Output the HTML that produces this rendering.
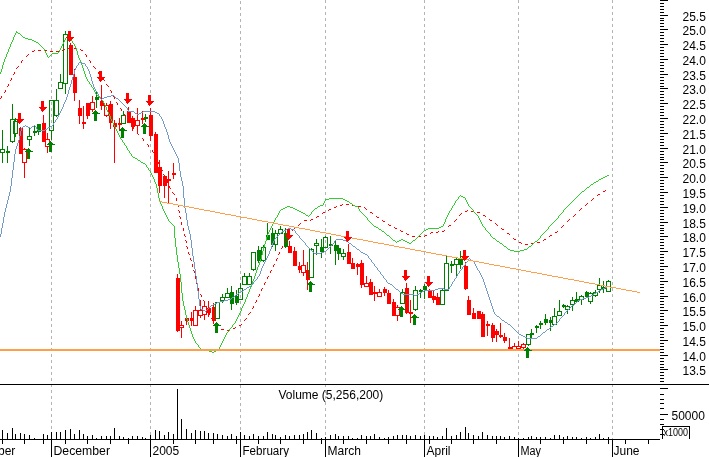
<!DOCTYPE html>
<html><head><meta charset="utf-8"><style>
html,body{margin:0;padding:0;background:#fff;}
body{width:709px;height:457px;overflow:hidden;}
svg{display:block;will-change:transform;}
.t{font-family:"Liberation Sans", sans-serif;font-size:12px;fill:#000;}
.s{font-family:"Liberation Sans", sans-serif;font-size:10px;fill:#000;}
</style></head><body>
<svg width="709" height="457" viewBox="0 0 709 457">
<rect width="709" height="457" fill="#fff"/>
<g shape-rendering="crispEdges"><line x1="51.5" y1="0" x2="51.5" y2="439" stroke="#b4b4b4" stroke-width="1" stroke-dasharray="3,3"/><line x1="150.5" y1="0" x2="150.5" y2="439" stroke="#b4b4b4" stroke-width="1" stroke-dasharray="3,3"/><line x1="240.5" y1="0" x2="240.5" y2="439" stroke="#b4b4b4" stroke-width="1" stroke-dasharray="3,3" stroke-dashoffset="5"/><line x1="325.5" y1="0" x2="325.5" y2="439" stroke="#b4b4b4" stroke-width="1" stroke-dasharray="3,3"/><line x1="424.5" y1="0" x2="424.5" y2="439" stroke="#b4b4b4" stroke-width="1" stroke-dasharray="3,3"/><line x1="518.5" y1="0" x2="518.5" y2="439" stroke="#b4b4b4" stroke-width="1" stroke-dasharray="3,3"/><line x1="612.5" y1="0" x2="612.5" y2="439" stroke="#b4b4b4" stroke-width="1" stroke-dasharray="3,3"/></g>
<text x="-40" y="455" class="t">November</text>
<g shape-rendering="crispEdges"><rect x="2" y="130" width="1" height="19" fill="#008000"/><rect x="2" y="153" width="1" height="10" fill="#008000"/><rect x="0" y="149" width="5" height="1" fill="#008000"/><rect x="0" y="152" width="5" height="1" fill="#008000"/><rect x="0" y="149" width="1" height="4" fill="#008000"/><rect x="4" y="149" width="1" height="4" fill="#008000"/><rect x="7" y="146" width="1" height="5" fill="#008000"/><rect x="7" y="153" width="1" height="10" fill="#008000"/><rect x="6" y="151" width="4" height="2" fill="#008000"/><rect x="12" y="104" width="1" height="15" fill="#008000"/><rect x="12" y="142" width="1" height="1" fill="#008000"/><rect x="10" y="119" width="5" height="1" fill="#008000"/><rect x="10" y="141" width="5" height="1" fill="#008000"/><rect x="10" y="119" width="1" height="23" fill="#008000"/><rect x="14" y="119" width="1" height="23" fill="#008000"/><rect x="15" y="118" width="1" height="3" fill="#008000"/><rect x="15" y="134" width="1" height="3" fill="#008000"/><rect x="13" y="121" width="5" height="1" fill="#008000"/><rect x="13" y="133" width="5" height="1" fill="#008000"/><rect x="13" y="121" width="1" height="13" fill="#008000"/><rect x="17" y="121" width="1" height="13" fill="#008000"/><rect x="20" y="127" width="1" height="1" fill="#ff0000"/><rect x="19" y="128" width="4" height="26" fill="#ff0000"/><rect x="24" y="148" width="1" height="1" fill="#ff0000"/><rect x="24" y="163" width="1" height="15" fill="#ff0000"/><rect x="22" y="149" width="5" height="1" fill="#ff0000"/><rect x="22" y="162" width="5" height="1" fill="#ff0000"/><rect x="22" y="149" width="1" height="14" fill="#ff0000"/><rect x="26" y="149" width="1" height="14" fill="#ff0000"/><rect x="29" y="128" width="1" height="8" fill="#008000"/><rect x="29" y="140" width="1" height="6" fill="#008000"/><rect x="27" y="136" width="5" height="1" fill="#008000"/><rect x="27" y="139" width="5" height="1" fill="#008000"/><rect x="27" y="136" width="1" height="4" fill="#008000"/><rect x="31" y="136" width="1" height="4" fill="#008000"/><rect x="34" y="125" width="1" height="6" fill="#008000"/><rect x="34" y="133" width="1" height="3" fill="#008000"/><rect x="33" y="131" width="4" height="2" fill="#008000"/><rect x="38" y="132" width="1" height="3" fill="#008000"/><rect x="37" y="124" width="4" height="8" fill="#008000"/><rect x="43" y="115" width="1" height="8" fill="#ff0000"/><rect x="42" y="123" width="4" height="19" fill="#ff0000"/><rect x="47" y="133" width="1" height="6" fill="#ff0000"/><rect x="47" y="147" width="1" height="6" fill="#ff0000"/><rect x="45" y="139" width="5" height="1" fill="#ff0000"/><rect x="45" y="146" width="5" height="1" fill="#ff0000"/><rect x="45" y="139" width="1" height="8" fill="#ff0000"/><rect x="49" y="139" width="1" height="8" fill="#ff0000"/><rect x="51" y="131" width="1" height="9" fill="#008000"/><rect x="49" y="100" width="5" height="1" fill="#008000"/><rect x="49" y="130" width="5" height="1" fill="#008000"/><rect x="49" y="100" width="1" height="31" fill="#008000"/><rect x="53" y="100" width="1" height="31" fill="#008000"/><rect x="56" y="89" width="1" height="11" fill="#008000"/><rect x="56" y="116" width="1" height="1" fill="#008000"/><rect x="54" y="100" width="5" height="1" fill="#008000"/><rect x="54" y="115" width="5" height="1" fill="#008000"/><rect x="54" y="100" width="1" height="16" fill="#008000"/><rect x="58" y="100" width="1" height="16" fill="#008000"/><rect x="60" y="74" width="1" height="8" fill="#008000"/><rect x="58" y="82" width="5" height="1" fill="#008000"/><rect x="58" y="88" width="5" height="1" fill="#008000"/><rect x="58" y="82" width="1" height="7" fill="#008000"/><rect x="62" y="82" width="1" height="7" fill="#008000"/><rect x="65" y="31" width="1" height="3" fill="#008000"/><rect x="65" y="84" width="1" height="10" fill="#008000"/><rect x="63" y="34" width="5" height="1" fill="#008000"/><rect x="63" y="83" width="5" height="1" fill="#008000"/><rect x="63" y="34" width="1" height="50" fill="#008000"/><rect x="67" y="34" width="1" height="50" fill="#008000"/><rect x="70" y="43" width="1" height="2" fill="#ff0000"/><rect x="69" y="45" width="4" height="30" fill="#ff0000"/><rect x="74" y="69" width="1" height="8" fill="#ff0000"/><rect x="74" y="93" width="1" height="8" fill="#ff0000"/><rect x="73" y="77" width="4" height="16" fill="#ff0000"/><rect x="79" y="100" width="1" height="8" fill="#ff0000"/><rect x="79" y="116" width="1" height="8" fill="#ff0000"/><rect x="78" y="108" width="4" height="8" fill="#ff0000"/><rect x="83" y="106" width="1" height="16" fill="#ff0000"/><rect x="83" y="124" width="1" height="5" fill="#ff0000"/><rect x="82" y="122" width="4" height="2" fill="#ff0000"/><rect x="87" y="116" width="1" height="3" fill="#ff0000"/><rect x="86" y="103" width="4" height="13" fill="#ff0000"/><rect x="92" y="96" width="1" height="6" fill="#ff0000"/><rect x="92" y="110" width="1" height="2" fill="#ff0000"/><rect x="90" y="102" width="5" height="1" fill="#ff0000"/><rect x="90" y="109" width="5" height="1" fill="#ff0000"/><rect x="90" y="102" width="1" height="8" fill="#ff0000"/><rect x="94" y="102" width="1" height="8" fill="#ff0000"/><rect x="96" y="92" width="1" height="5" fill="#008000"/><rect x="96" y="100" width="1" height="8" fill="#008000"/><rect x="95" y="97" width="4" height="3" fill="#008000"/><rect x="101" y="85" width="1" height="16" fill="#ff0000"/><rect x="101" y="106" width="1" height="4" fill="#ff0000"/><rect x="100" y="101" width="4" height="5" fill="#ff0000"/><rect x="106" y="103" width="1" height="2" fill="#ff0000"/><rect x="106" y="116" width="1" height="1" fill="#ff0000"/><rect x="104" y="105" width="5" height="1" fill="#ff0000"/><rect x="104" y="115" width="5" height="1" fill="#ff0000"/><rect x="104" y="105" width="1" height="11" fill="#ff0000"/><rect x="108" y="105" width="1" height="11" fill="#ff0000"/><rect x="110" y="101" width="1" height="3" fill="#ff0000"/><rect x="110" y="123" width="1" height="6" fill="#ff0000"/><rect x="109" y="104" width="4" height="19" fill="#ff0000"/><rect x="114" y="120" width="1" height="3" fill="#ff0000"/><rect x="114" y="127" width="1" height="36" fill="#ff0000"/><rect x="113" y="123" width="4" height="4" fill="#ff0000"/><rect x="119" y="118" width="1" height="5" fill="#ff0000"/><rect x="119" y="125" width="1" height="6" fill="#ff0000"/><rect x="118" y="123" width="4" height="2" fill="#ff0000"/><rect x="123" y="111" width="1" height="4" fill="#008000"/><rect x="121" y="115" width="5" height="1" fill="#008000"/><rect x="121" y="123" width="5" height="1" fill="#008000"/><rect x="121" y="115" width="1" height="9" fill="#008000"/><rect x="125" y="115" width="1" height="9" fill="#008000"/><rect x="128" y="107" width="1" height="4" fill="#ff0000"/><rect x="127" y="111" width="4" height="12" fill="#ff0000"/><rect x="132" y="116" width="1" height="2" fill="#ff0000"/><rect x="132" y="127" width="1" height="4" fill="#ff0000"/><rect x="131" y="118" width="4" height="9" fill="#ff0000"/><rect x="137" y="108" width="1" height="12" fill="#ff0000"/><rect x="137" y="126" width="1" height="6" fill="#ff0000"/><rect x="135" y="120" width="5" height="1" fill="#ff0000"/><rect x="135" y="125" width="5" height="1" fill="#ff0000"/><rect x="135" y="120" width="1" height="6" fill="#ff0000"/><rect x="139" y="120" width="1" height="6" fill="#ff0000"/><rect x="142" y="111" width="1" height="7" fill="#ff0000"/><rect x="142" y="120" width="1" height="4" fill="#ff0000"/><rect x="141" y="118" width="4" height="2" fill="#ff0000"/><rect x="145" y="114" width="1" height="3" fill="#008000"/><rect x="145" y="119" width="1" height="3" fill="#008000"/><rect x="144" y="117" width="4" height="2" fill="#008000"/><rect x="150" y="108" width="1" height="7" fill="#ff0000"/><rect x="150" y="136" width="1" height="5" fill="#ff0000"/><rect x="149" y="115" width="4" height="21" fill="#ff0000"/><rect x="155" y="132" width="1" height="2" fill="#ff0000"/><rect x="154" y="134" width="4" height="39" fill="#ff0000"/><rect x="159" y="160" width="1" height="7" fill="#ff0000"/><rect x="159" y="186" width="1" height="7" fill="#ff0000"/><rect x="158" y="167" width="4" height="19" fill="#ff0000"/><rect x="164" y="186" width="1" height="12" fill="#ff0000"/><rect x="163" y="176" width="4" height="10" fill="#ff0000"/><rect x="168" y="171" width="1" height="8" fill="#ff0000"/><rect x="168" y="181" width="1" height="22" fill="#ff0000"/><rect x="167" y="179" width="4" height="2" fill="#ff0000"/><rect x="173" y="163" width="1" height="10" fill="#ff0000"/><rect x="173" y="175" width="1" height="4" fill="#ff0000"/><rect x="172" y="173" width="4" height="2" fill="#ff0000"/><rect x="177" y="274" width="1" height="4" fill="#ff0000"/><rect x="177" y="331" width="1" height="1" fill="#ff0000"/><rect x="176" y="278" width="4" height="53" fill="#ff0000"/><rect x="181" y="321" width="1" height="4" fill="#ff0000"/><rect x="181" y="328" width="1" height="10" fill="#ff0000"/><rect x="179" y="325" width="5" height="1" fill="#ff0000"/><rect x="179" y="327" width="5" height="1" fill="#ff0000"/><rect x="179" y="325" width="1" height="3" fill="#ff0000"/><rect x="183" y="325" width="1" height="3" fill="#ff0000"/><rect x="186" y="321" width="1" height="4" fill="#ff0000"/><rect x="185" y="318" width="4" height="3" fill="#ff0000"/><rect x="191" y="312" width="1" height="6" fill="#ff0000"/><rect x="191" y="321" width="1" height="5" fill="#ff0000"/><rect x="190" y="318" width="4" height="3" fill="#ff0000"/><rect x="195" y="306" width="1" height="4" fill="#ff0000"/><rect x="193" y="310" width="5" height="1" fill="#ff0000"/><rect x="193" y="325" width="5" height="1" fill="#ff0000"/><rect x="193" y="310" width="1" height="16" fill="#ff0000"/><rect x="197" y="310" width="1" height="16" fill="#ff0000"/><rect x="200" y="300" width="1" height="10" fill="#ff0000"/><rect x="200" y="316" width="1" height="2" fill="#ff0000"/><rect x="198" y="310" width="5" height="1" fill="#ff0000"/><rect x="198" y="315" width="5" height="1" fill="#ff0000"/><rect x="198" y="310" width="1" height="6" fill="#ff0000"/><rect x="202" y="310" width="1" height="6" fill="#ff0000"/><rect x="204" y="302" width="1" height="4" fill="#ff0000"/><rect x="204" y="315" width="1" height="5" fill="#ff0000"/><rect x="202" y="306" width="5" height="1" fill="#ff0000"/><rect x="202" y="314" width="5" height="1" fill="#ff0000"/><rect x="202" y="306" width="1" height="9" fill="#ff0000"/><rect x="206" y="306" width="1" height="9" fill="#ff0000"/><rect x="208" y="301" width="1" height="7" fill="#ff0000"/><rect x="208" y="313" width="1" height="4" fill="#ff0000"/><rect x="207" y="308" width="4" height="5" fill="#ff0000"/><rect x="213" y="303" width="1" height="4" fill="#ff0000"/><rect x="213" y="321" width="1" height="3" fill="#ff0000"/><rect x="212" y="307" width="4" height="14" fill="#ff0000"/><rect x="215" y="302" width="5" height="1" fill="#008000"/><rect x="215" y="318" width="5" height="1" fill="#008000"/><rect x="215" y="302" width="1" height="17" fill="#008000"/><rect x="219" y="302" width="1" height="17" fill="#008000"/><rect x="222" y="294" width="1" height="3" fill="#008000"/><rect x="222" y="301" width="1" height="2" fill="#008000"/><rect x="220" y="297" width="5" height="1" fill="#008000"/><rect x="220" y="300" width="5" height="1" fill="#008000"/><rect x="220" y="297" width="1" height="4" fill="#008000"/><rect x="224" y="297" width="1" height="4" fill="#008000"/><rect x="227" y="288" width="1" height="5" fill="#008000"/><rect x="225" y="293" width="5" height="1" fill="#008000"/><rect x="225" y="297" width="5" height="1" fill="#008000"/><rect x="225" y="293" width="1" height="5" fill="#008000"/><rect x="229" y="293" width="1" height="5" fill="#008000"/><rect x="231" y="286" width="1" height="6" fill="#008000"/><rect x="231" y="304" width="1" height="6" fill="#008000"/><rect x="230" y="292" width="4" height="12" fill="#008000"/><rect x="236" y="290" width="1" height="6" fill="#008000"/><rect x="236" y="303" width="1" height="2" fill="#008000"/><rect x="235" y="296" width="4" height="7" fill="#008000"/><rect x="240" y="283" width="1" height="5" fill="#008000"/><rect x="238" y="288" width="5" height="1" fill="#008000"/><rect x="238" y="299" width="5" height="1" fill="#008000"/><rect x="238" y="288" width="1" height="12" fill="#008000"/><rect x="242" y="288" width="1" height="12" fill="#008000"/><rect x="244" y="273" width="1" height="3" fill="#008000"/><rect x="242" y="276" width="5" height="1" fill="#008000"/><rect x="242" y="284" width="5" height="1" fill="#008000"/><rect x="242" y="276" width="1" height="9" fill="#008000"/><rect x="246" y="276" width="1" height="9" fill="#008000"/><rect x="249" y="273" width="1" height="3" fill="#008000"/><rect x="247" y="276" width="5" height="1" fill="#008000"/><rect x="247" y="284" width="5" height="1" fill="#008000"/><rect x="247" y="276" width="1" height="9" fill="#008000"/><rect x="251" y="276" width="1" height="9" fill="#008000"/><rect x="253" y="270" width="1" height="1" fill="#008000"/><rect x="251" y="252" width="5" height="1" fill="#008000"/><rect x="251" y="269" width="5" height="1" fill="#008000"/><rect x="251" y="252" width="1" height="18" fill="#008000"/><rect x="255" y="252" width="1" height="18" fill="#008000"/><rect x="258" y="246" width="1" height="4" fill="#008000"/><rect x="258" y="261" width="1" height="2" fill="#008000"/><rect x="257" y="250" width="4" height="11" fill="#008000"/><rect x="263" y="245" width="1" height="2" fill="#008000"/><rect x="263" y="261" width="1" height="1" fill="#008000"/><rect x="261" y="247" width="5" height="1" fill="#008000"/><rect x="261" y="260" width="5" height="1" fill="#008000"/><rect x="261" y="247" width="1" height="14" fill="#008000"/><rect x="265" y="247" width="1" height="14" fill="#008000"/><rect x="267" y="223" width="1" height="12" fill="#008000"/><rect x="266" y="235" width="4" height="5" fill="#008000"/><rect x="272" y="228" width="1" height="5" fill="#008000"/><rect x="272" y="245" width="1" height="2" fill="#008000"/><rect x="271" y="233" width="4" height="12" fill="#008000"/><rect x="275" y="230" width="1" height="3" fill="#008000"/><rect x="275" y="245" width="1" height="6" fill="#008000"/><rect x="273" y="233" width="5" height="1" fill="#008000"/><rect x="273" y="244" width="5" height="1" fill="#008000"/><rect x="273" y="233" width="1" height="12" fill="#008000"/><rect x="277" y="233" width="1" height="12" fill="#008000"/><rect x="280" y="226" width="1" height="3" fill="#008000"/><rect x="278" y="229" width="5" height="1" fill="#008000"/><rect x="278" y="233" width="5" height="1" fill="#008000"/><rect x="278" y="229" width="1" height="5" fill="#008000"/><rect x="282" y="229" width="1" height="5" fill="#008000"/><rect x="285" y="228" width="1" height="5" fill="#008000"/><rect x="285" y="247" width="1" height="1" fill="#008000"/><rect x="284" y="233" width="4" height="14" fill="#008000"/><rect x="289" y="241" width="1" height="5" fill="#ff0000"/><rect x="288" y="246" width="4" height="7" fill="#ff0000"/><rect x="294" y="247" width="1" height="4" fill="#ff0000"/><rect x="293" y="251" width="4" height="15" fill="#ff0000"/><rect x="299" y="262" width="1" height="4" fill="#ff0000"/><rect x="299" y="270" width="1" height="3" fill="#ff0000"/><rect x="298" y="266" width="4" height="4" fill="#ff0000"/><rect x="303" y="250" width="1" height="15" fill="#ff0000"/><rect x="303" y="273" width="1" height="3" fill="#ff0000"/><rect x="301" y="265" width="5" height="1" fill="#ff0000"/><rect x="301" y="272" width="5" height="1" fill="#ff0000"/><rect x="301" y="265" width="1" height="8" fill="#ff0000"/><rect x="305" y="265" width="1" height="8" fill="#ff0000"/><rect x="307" y="262" width="1" height="8" fill="#ff0000"/><rect x="307" y="280" width="1" height="10" fill="#ff0000"/><rect x="306" y="270" width="4" height="10" fill="#ff0000"/><rect x="311" y="248" width="1" height="1" fill="#008000"/><rect x="309" y="249" width="5" height="1" fill="#008000"/><rect x="309" y="277" width="5" height="1" fill="#008000"/><rect x="309" y="249" width="1" height="29" fill="#008000"/><rect x="313" y="249" width="1" height="29" fill="#008000"/><rect x="316" y="239" width="1" height="4" fill="#008000"/><rect x="316" y="246" width="1" height="9" fill="#008000"/><rect x="314" y="243" width="5" height="1" fill="#008000"/><rect x="314" y="245" width="5" height="1" fill="#008000"/><rect x="314" y="243" width="1" height="3" fill="#008000"/><rect x="318" y="243" width="1" height="3" fill="#008000"/><rect x="321" y="239" width="1" height="8" fill="#008000"/><rect x="321" y="252" width="1" height="6" fill="#008000"/><rect x="320" y="247" width="4" height="5" fill="#008000"/><rect x="325" y="236" width="1" height="1" fill="#008000"/><rect x="323" y="237" width="5" height="1" fill="#008000"/><rect x="323" y="247" width="5" height="1" fill="#008000"/><rect x="323" y="237" width="1" height="11" fill="#008000"/><rect x="327" y="237" width="1" height="11" fill="#008000"/><rect x="330" y="236" width="1" height="8" fill="#008000"/><rect x="330" y="246" width="1" height="8" fill="#008000"/><rect x="329" y="244" width="4" height="2" fill="#008000"/><rect x="335" y="240" width="1" height="5" fill="#008000"/><rect x="335" y="251" width="1" height="14" fill="#008000"/><rect x="334" y="245" width="4" height="6" fill="#008000"/><rect x="338" y="245" width="1" height="3" fill="#008000"/><rect x="338" y="254" width="1" height="6" fill="#008000"/><rect x="337" y="248" width="4" height="6" fill="#008000"/><rect x="343" y="249" width="1" height="4" fill="#008000"/><rect x="343" y="257" width="1" height="3" fill="#008000"/><rect x="341" y="253" width="5" height="1" fill="#008000"/><rect x="341" y="256" width="5" height="1" fill="#008000"/><rect x="341" y="253" width="1" height="4" fill="#008000"/><rect x="345" y="253" width="1" height="4" fill="#008000"/><rect x="348" y="244" width="1" height="8" fill="#ff0000"/><rect x="347" y="252" width="4" height="12" fill="#ff0000"/><rect x="352" y="258" width="1" height="5" fill="#ff0000"/><rect x="351" y="263" width="4" height="6" fill="#ff0000"/><rect x="357" y="263" width="1" height="1" fill="#ff0000"/><rect x="357" y="267" width="1" height="8" fill="#ff0000"/><rect x="356" y="264" width="4" height="3" fill="#ff0000"/><rect x="361" y="260" width="1" height="3" fill="#ff0000"/><rect x="361" y="285" width="1" height="3" fill="#ff0000"/><rect x="360" y="263" width="4" height="22" fill="#ff0000"/><rect x="366" y="276" width="1" height="7" fill="#ff0000"/><rect x="364" y="283" width="5" height="1" fill="#ff0000"/><rect x="364" y="286" width="5" height="1" fill="#ff0000"/><rect x="364" y="283" width="1" height="4" fill="#ff0000"/><rect x="368" y="283" width="1" height="4" fill="#ff0000"/><rect x="370" y="279" width="1" height="3" fill="#ff0000"/><rect x="369" y="282" width="4" height="13" fill="#ff0000"/><rect x="374" y="286" width="1" height="6" fill="#ff0000"/><rect x="374" y="294" width="1" height="7" fill="#ff0000"/><rect x="373" y="292" width="4" height="2" fill="#ff0000"/><rect x="379" y="289" width="1" height="3" fill="#ff0000"/><rect x="377" y="292" width="5" height="1" fill="#ff0000"/><rect x="377" y="296" width="5" height="1" fill="#ff0000"/><rect x="377" y="292" width="1" height="5" fill="#ff0000"/><rect x="381" y="292" width="1" height="5" fill="#ff0000"/><rect x="384" y="287" width="1" height="2" fill="#ff0000"/><rect x="384" y="293" width="1" height="3" fill="#ff0000"/><rect x="383" y="289" width="4" height="4" fill="#ff0000"/><rect x="388" y="290" width="1" height="3" fill="#ff0000"/><rect x="387" y="293" width="4" height="11" fill="#ff0000"/><rect x="393" y="299" width="1" height="3" fill="#ff0000"/><rect x="392" y="302" width="4" height="14" fill="#ff0000"/><rect x="397" y="305" width="1" height="2" fill="#ff0000"/><rect x="397" y="316" width="1" height="5" fill="#ff0000"/><rect x="395" y="307" width="5" height="1" fill="#ff0000"/><rect x="395" y="315" width="5" height="1" fill="#ff0000"/><rect x="395" y="307" width="1" height="9" fill="#ff0000"/><rect x="399" y="307" width="1" height="9" fill="#ff0000"/><rect x="402" y="289" width="1" height="3" fill="#008000"/><rect x="400" y="292" width="5" height="1" fill="#008000"/><rect x="400" y="303" width="5" height="1" fill="#008000"/><rect x="400" y="292" width="1" height="12" fill="#008000"/><rect x="404" y="292" width="1" height="12" fill="#008000"/><rect x="406" y="283" width="1" height="5" fill="#ff0000"/><rect x="406" y="313" width="1" height="1" fill="#ff0000"/><rect x="405" y="288" width="4" height="25" fill="#ff0000"/><rect x="410" y="300" width="1" height="12" fill="#ff0000"/><rect x="410" y="314" width="1" height="9" fill="#ff0000"/><rect x="409" y="312" width="4" height="2" fill="#ff0000"/><rect x="415" y="286" width="1" height="4" fill="#008000"/><rect x="415" y="310" width="1" height="1" fill="#008000"/><rect x="413" y="290" width="5" height="1" fill="#008000"/><rect x="413" y="309" width="5" height="1" fill="#008000"/><rect x="413" y="290" width="1" height="20" fill="#008000"/><rect x="417" y="290" width="1" height="20" fill="#008000"/><rect x="420" y="289" width="1" height="1" fill="#008000"/><rect x="420" y="292" width="1" height="6" fill="#008000"/><rect x="419" y="290" width="4" height="2" fill="#008000"/><rect x="424" y="284" width="1" height="2" fill="#008000"/><rect x="424" y="290" width="1" height="9" fill="#008000"/><rect x="423" y="286" width="4" height="4" fill="#008000"/><rect x="429" y="289" width="1" height="1" fill="#ff0000"/><rect x="428" y="290" width="4" height="8" fill="#ff0000"/><rect x="433" y="291" width="1" height="5" fill="#ff0000"/><rect x="433" y="300" width="1" height="3" fill="#ff0000"/><rect x="432" y="296" width="4" height="4" fill="#ff0000"/><rect x="437" y="293" width="1" height="4" fill="#ff0000"/><rect x="436" y="297" width="4" height="8" fill="#ff0000"/><rect x="442" y="288" width="1" height="2" fill="#008000"/><rect x="440" y="290" width="5" height="1" fill="#008000"/><rect x="440" y="304" width="5" height="1" fill="#008000"/><rect x="440" y="290" width="1" height="15" fill="#008000"/><rect x="444" y="290" width="1" height="15" fill="#008000"/><rect x="446" y="256" width="1" height="7" fill="#008000"/><rect x="444" y="263" width="5" height="1" fill="#008000"/><rect x="444" y="290" width="5" height="1" fill="#008000"/><rect x="444" y="263" width="1" height="28" fill="#008000"/><rect x="448" y="263" width="1" height="28" fill="#008000"/><rect x="451" y="261" width="1" height="3" fill="#008000"/><rect x="451" y="266" width="1" height="7" fill="#008000"/><rect x="450" y="264" width="4" height="2" fill="#008000"/><rect x="456" y="258" width="1" height="1" fill="#008000"/><rect x="456" y="265" width="1" height="11" fill="#008000"/><rect x="454" y="259" width="5" height="1" fill="#008000"/><rect x="454" y="264" width="5" height="1" fill="#008000"/><rect x="454" y="259" width="1" height="6" fill="#008000"/><rect x="458" y="259" width="1" height="6" fill="#008000"/><rect x="460" y="251" width="1" height="8" fill="#008000"/><rect x="460" y="265" width="1" height="4" fill="#008000"/><rect x="459" y="259" width="4" height="6" fill="#008000"/><rect x="465" y="262" width="1" height="4" fill="#ff0000"/><rect x="465" y="289" width="1" height="1" fill="#ff0000"/><rect x="464" y="266" width="4" height="23" fill="#ff0000"/><rect x="468" y="296" width="1" height="4" fill="#ff0000"/><rect x="467" y="300" width="4" height="15" fill="#ff0000"/><rect x="473" y="308" width="1" height="5" fill="#ff0000"/><rect x="472" y="313" width="4" height="6" fill="#ff0000"/><rect x="477" y="311" width="4" height="8" fill="#ff0000"/><rect x="482" y="312" width="1" height="2" fill="#ff0000"/><rect x="481" y="314" width="4" height="23" fill="#ff0000"/><rect x="487" y="321" width="1" height="3" fill="#ff0000"/><rect x="487" y="326" width="1" height="10" fill="#ff0000"/><rect x="486" y="324" width="4" height="2" fill="#ff0000"/><rect x="492" y="323" width="1" height="2" fill="#ff0000"/><rect x="492" y="338" width="1" height="4" fill="#ff0000"/><rect x="491" y="325" width="4" height="13" fill="#ff0000"/><rect x="496" y="329" width="1" height="2" fill="#ff0000"/><rect x="496" y="335" width="1" height="7" fill="#ff0000"/><rect x="495" y="331" width="4" height="4" fill="#ff0000"/><rect x="500" y="323" width="1" height="12" fill="#ff0000"/><rect x="500" y="337" width="1" height="1" fill="#ff0000"/><rect x="499" y="335" width="4" height="2" fill="#ff0000"/><rect x="504" y="333" width="1" height="4" fill="#ff0000"/><rect x="504" y="341" width="1" height="2" fill="#ff0000"/><rect x="503" y="337" width="4" height="4" fill="#ff0000"/><rect x="509" y="338" width="1" height="9" fill="#ff0000"/><rect x="509" y="350" width="1" height="1" fill="#ff0000"/><rect x="508" y="347" width="4" height="3" fill="#ff0000"/><rect x="514" y="343" width="1" height="3" fill="#ff0000"/><rect x="514" y="350" width="1" height="1" fill="#ff0000"/><rect x="512" y="346" width="5" height="1" fill="#ff0000"/><rect x="512" y="349" width="5" height="1" fill="#ff0000"/><rect x="512" y="346" width="1" height="4" fill="#ff0000"/><rect x="516" y="346" width="1" height="4" fill="#ff0000"/><rect x="518" y="341" width="1" height="5" fill="#ff0000"/><rect x="518" y="349" width="1" height="1" fill="#ff0000"/><rect x="516" y="346" width="5" height="1" fill="#ff0000"/><rect x="516" y="348" width="5" height="1" fill="#ff0000"/><rect x="516" y="346" width="1" height="3" fill="#ff0000"/><rect x="520" y="346" width="1" height="3" fill="#ff0000"/><rect x="523" y="343" width="1" height="1" fill="#ff0000"/><rect x="523" y="348" width="1" height="1" fill="#ff0000"/><rect x="521" y="344" width="5" height="1" fill="#ff0000"/><rect x="521" y="347" width="5" height="1" fill="#ff0000"/><rect x="521" y="344" width="1" height="4" fill="#ff0000"/><rect x="525" y="344" width="1" height="4" fill="#ff0000"/><rect x="528" y="345" width="1" height="1" fill="#008000"/><rect x="526" y="334" width="5" height="1" fill="#008000"/><rect x="526" y="344" width="5" height="1" fill="#008000"/><rect x="526" y="334" width="1" height="11" fill="#008000"/><rect x="530" y="334" width="1" height="11" fill="#008000"/><rect x="531" y="329" width="1" height="4" fill="#008000"/><rect x="531" y="335" width="1" height="3" fill="#008000"/><rect x="530" y="333" width="4" height="2" fill="#008000"/><rect x="536" y="325" width="1" height="1" fill="#008000"/><rect x="536" y="328" width="1" height="5" fill="#008000"/><rect x="535" y="326" width="4" height="2" fill="#008000"/><rect x="540" y="321" width="1" height="2" fill="#008000"/><rect x="540" y="325" width="1" height="4" fill="#008000"/><rect x="539" y="323" width="4" height="2" fill="#008000"/><rect x="545" y="314" width="1" height="5" fill="#008000"/><rect x="545" y="323" width="1" height="2" fill="#008000"/><rect x="544" y="319" width="4" height="4" fill="#008000"/><rect x="550" y="317" width="1" height="3" fill="#008000"/><rect x="550" y="323" width="1" height="8" fill="#008000"/><rect x="549" y="320" width="4" height="3" fill="#008000"/><rect x="554" y="308" width="1" height="8" fill="#008000"/><rect x="552" y="316" width="5" height="1" fill="#008000"/><rect x="552" y="324" width="5" height="1" fill="#008000"/><rect x="552" y="316" width="1" height="9" fill="#008000"/><rect x="556" y="316" width="1" height="9" fill="#008000"/><rect x="559" y="300" width="1" height="11" fill="#008000"/><rect x="557" y="311" width="5" height="1" fill="#008000"/><rect x="557" y="315" width="5" height="1" fill="#008000"/><rect x="557" y="311" width="1" height="5" fill="#008000"/><rect x="561" y="311" width="1" height="5" fill="#008000"/><rect x="563" y="304" width="1" height="1" fill="#008000"/><rect x="563" y="307" width="1" height="1" fill="#008000"/><rect x="562" y="305" width="4" height="2" fill="#008000"/><rect x="567" y="305" width="1" height="1" fill="#008000"/><rect x="567" y="310" width="1" height="4" fill="#008000"/><rect x="565" y="306" width="5" height="1" fill="#008000"/><rect x="565" y="309" width="5" height="1" fill="#008000"/><rect x="565" y="306" width="1" height="4" fill="#008000"/><rect x="569" y="306" width="1" height="4" fill="#008000"/><rect x="572" y="297" width="1" height="3" fill="#008000"/><rect x="572" y="305" width="1" height="6" fill="#008000"/><rect x="570" y="300" width="5" height="1" fill="#008000"/><rect x="570" y="304" width="5" height="1" fill="#008000"/><rect x="570" y="300" width="1" height="5" fill="#008000"/><rect x="574" y="300" width="1" height="5" fill="#008000"/><rect x="576" y="292" width="1" height="7" fill="#008000"/><rect x="576" y="302" width="1" height="1" fill="#008000"/><rect x="575" y="299" width="4" height="3" fill="#008000"/><rect x="581" y="295" width="1" height="1" fill="#008000"/><rect x="581" y="300" width="1" height="5" fill="#008000"/><rect x="579" y="296" width="5" height="1" fill="#008000"/><rect x="579" y="299" width="5" height="1" fill="#008000"/><rect x="579" y="296" width="1" height="4" fill="#008000"/><rect x="583" y="296" width="1" height="4" fill="#008000"/><rect x="586" y="291" width="1" height="1" fill="#008000"/><rect x="586" y="297" width="1" height="1" fill="#008000"/><rect x="585" y="292" width="4" height="5" fill="#008000"/><rect x="590" y="292" width="1" height="1" fill="#008000"/><rect x="590" y="302" width="1" height="2" fill="#008000"/><rect x="588" y="293" width="5" height="1" fill="#008000"/><rect x="588" y="301" width="5" height="1" fill="#008000"/><rect x="588" y="293" width="1" height="9" fill="#008000"/><rect x="592" y="293" width="1" height="9" fill="#008000"/><rect x="595" y="290" width="1" height="2" fill="#008000"/><rect x="595" y="296" width="1" height="1" fill="#008000"/><rect x="593" y="292" width="5" height="1" fill="#008000"/><rect x="593" y="295" width="5" height="1" fill="#008000"/><rect x="593" y="292" width="1" height="4" fill="#008000"/><rect x="597" y="292" width="1" height="4" fill="#008000"/><rect x="599" y="278" width="1" height="7" fill="#008000"/><rect x="599" y="290" width="1" height="3" fill="#008000"/><rect x="597" y="285" width="5" height="1" fill="#008000"/><rect x="597" y="289" width="5" height="1" fill="#008000"/><rect x="597" y="285" width="1" height="5" fill="#008000"/><rect x="601" y="285" width="1" height="5" fill="#008000"/><rect x="603" y="281" width="1" height="6" fill="#008000"/><rect x="603" y="289" width="1" height="4" fill="#008000"/><rect x="602" y="287" width="4" height="2" fill="#008000"/><rect x="608" y="280" width="1" height="1" fill="#008000"/><rect x="606" y="281" width="5" height="1" fill="#008000"/><rect x="606" y="291" width="5" height="1" fill="#008000"/><rect x="606" y="281" width="1" height="11" fill="#008000"/><rect x="610" y="281" width="1" height="11" fill="#008000"/></g>
<g shape-rendering="crispEdges">
<path d="M68 48h3v1h-3zM74 48h3v1h-3zM63 49h2v1h-2zM80 49h1v1h-1zM34 50h1v1h-1zM38 50h3v1h-3zM44 50h3v1h-3zM62 50h1v1h-1zM81 50h2v1h-2zM32 51h2v1h-2zM50 51h3v1h-3zM56 51h3v1h-3zM28 54h1v1h-1zM85 54h1v1h-1zM27 55h1v1h-1zM86 55h1v1h-1zM26 56h1v1h-1zM86 56h1v1h-1zM22 60h1v1h-1zM89 60h1v1h-1zM21 61h1v1h-1zM90 61h1v1h-1zM21 62h1v1h-1zM90 62h1v1h-1zM18 66h1v1h-1zM93 66h1v1h-1zM17 67h1v1h-1zM94 67h1v1h-1zM16 68h1v1h-1zM95 68h1v1h-1zM14 72h1v1h-1zM98 72h1v1h-1zM14 73h1v1h-1zM98 73h1v1h-1zM13 74h1v1h-1zM99 74h1v1h-1zM11 78h1v1h-1zM102 78h1v1h-1zM11 79h1v1h-1zM103 79h1v1h-1zM10 80h1v1h-1zM104 80h1v1h-1zM8 84h1v1h-1zM106 84h1v1h-1zM8 85h1v1h-1zM107 85h1v1h-1zM7 86h1v1h-1zM108 86h1v1h-1zM5 90h1v1h-1zM110 90h1v1h-1zM5 91h1v1h-1zM111 91h1v1h-1zM4 92h1v1h-1zM111 92h1v1h-1zM1 96h1v1h-1zM113 96h1v1h-1zM1 97h1v1h-1zM114 97h1v1h-1zM0 98h1v1h-1zM114 98h1v1h-1zM116 102h1v1h-1zM117 103h1v1h-1zM117 104h1v1h-1zM120 108h1v1h-1zM121 109h1v1h-1zM121 110h1v1h-1zM124 114h1v1h-1zM125 115h1v1h-1zM125 116h1v1h-1zM128 120h1v1h-1zM129 121h1v1h-1zM129 122h1v1h-1zM132 126h1v1h-1zM133 127h1v1h-1zM133 128h1v1h-1zM137 132h1v1h-1zM137 133h1v1h-1zM138 134h1v1h-1zM142 138h1v1h-1zM143 139h1v1h-1zM143 140h1v1h-1zM147 144h1v1h-1zM148 145h1v1h-1zM148 146h1v1h-1zM152 150h1v1h-1zM152 151h1v1h-1zM153 152h1v1h-1zM155 156h1v1h-1zM155 157h1v1h-1zM156 158h1v1h-1zM158 162h1v1h-1zM158 163h1v1h-1zM159 164h1v1h-1zM161 168h1v1h-1zM161 169h1v1h-1zM162 170h1v1h-1zM163 174h1v1h-1zM164 175h1v1h-1zM164 176h1v1h-1zM166 180h1v1h-1zM167 181h1v1h-1zM167 182h1v1h-1zM169 186h1v1h-1zM169 187h1v1h-1zM170 188h1v1h-1zM605 190h1v1h-1zM603 191h2v1h-2zM172 192h1v1h-1zM173 193h1v1h-1zM174 194h1v1h-1zM598 194h2v1h-2zM597 195h1v1h-1zM176 198h1v1h-1zM593 198h1v1h-1zM176 199h1v1h-1zM592 199h1v1h-1zM176 200h1v1h-1zM591 200h1v1h-1zM587 203h1v1h-1zM177 204h1v1h-1zM342 204h1v1h-1zM346 204h3v1h-3zM586 204h1v1h-1zM178 205h1v1h-1zM340 205h2v1h-2zM352 205h3v1h-3zM585 205h1v1h-1zM178 206h1v1h-1zM336 206h1v1h-1zM358 206h3v1h-3zM334 207h2v1h-2zM364 207h1v1h-1zM365 208h1v1h-1zM581 208h1v1h-1zM329 209h2v1h-2zM366 209h1v1h-1zM580 209h1v1h-1zM178 210h1v1h-1zM328 210h1v1h-1zM467 210h1v1h-1zM579 210h1v1h-1zM179 211h1v1h-1zM465 211h2v1h-2zM471 211h3v1h-3zM179 212h1v1h-1zM323 212h2v1h-2zM370 212h2v1h-2zM477 212h3v1h-3zM322 213h1v1h-1zM372 213h1v1h-1zM461 213h1v1h-1zM460 214h1v1h-1zM575 214h1v1h-1zM459 215h1v1h-1zM483 215h2v1h-2zM574 215h1v1h-1zM179 216h1v1h-1zM317 216h2v1h-2zM376 216h1v1h-1zM485 216h1v1h-1zM573 216h1v1h-1zM180 217h1v1h-1zM316 217h1v1h-1zM377 217h2v1h-2zM180 218h1v1h-1zM311 219h2v1h-2zM456 219h1v1h-1zM489 219h1v1h-1zM569 219h1v1h-1zM304 220h3v1h-3zM310 220h1v1h-1zM382 220h1v1h-1zM455 220h1v1h-1zM490 220h2v1h-2zM568 220h1v1h-1zM383 221h2v1h-2zM454 221h1v1h-1zM567 221h1v1h-1zM181 222h1v1h-1zM181 223h1v1h-1zM300 223h1v1h-1zM495 223h1v1h-1zM181 224h1v1h-1zM299 224h1v1h-1zM388 224h1v1h-1zM496 224h1v1h-1zM298 225h1v1h-1zM389 225h2v1h-2zM449 225h2v1h-2zM497 225h1v1h-1zM563 225h1v1h-1zM448 226h1v1h-1zM562 226h1v1h-1zM394 227h1v1h-1zM561 227h1v1h-1zM183 228h1v1h-1zM294 228h1v1h-1zM395 228h2v1h-2zM501 228h1v1h-1zM183 229h1v1h-1zM293 229h1v1h-1zM502 229h2v1h-2zM183 230h1v1h-1zM292 230h1v1h-1zM400 230h1v1h-1zM444 230h1v1h-1zM401 231h2v1h-2zM438 231h1v1h-1zM442 231h2v1h-2zM557 231h1v1h-1zM431 232h2v1h-2zM436 232h2v1h-2zM555 232h2v1h-2zM406 233h1v1h-1zM430 233h1v1h-1zM507 233h2v1h-2zM184 234h1v1h-1zM289 234h1v1h-1zM407 234h2v1h-2zM509 234h1v1h-1zM184 235h1v1h-1zM289 235h1v1h-1zM425 235h2v1h-2zM550 235h2v1h-2zM185 236h1v1h-1zM288 236h1v1h-1zM412 236h3v1h-3zM418 236h3v1h-3zM424 236h1v1h-1zM549 236h1v1h-1zM513 238h1v1h-1zM514 239h2v1h-2zM544 239h2v1h-2zM185 240h1v1h-1zM286 240h1v1h-1zM543 240h1v1h-1zM186 241h1v1h-1zM285 241h1v1h-1zM186 242h1v1h-1zM284 242h1v1h-1zM519 242h2v1h-2zM537 242h3v1h-3zM521 243h1v1h-1zM531 243h3v1h-3zM525 244h3v1h-3zM186 246h1v1h-1zM282 246h1v1h-1zM187 247h1v1h-1zM282 247h1v1h-1zM187 248h1v1h-1zM281 248h1v1h-1zM188 252h1v1h-1zM279 252h1v1h-1zM188 253h1v1h-1zM279 253h1v1h-1zM189 254h1v1h-1zM278 254h1v1h-1zM190 258h1v1h-1zM277 258h1v1h-1zM190 259h1v1h-1zM276 259h1v1h-1zM191 260h1v1h-1zM276 260h1v1h-1zM192 264h1v1h-1zM274 264h1v1h-1zM192 265h1v1h-1zM273 265h1v1h-1zM192 266h1v1h-1zM273 266h1v1h-1zM193 270h1v1h-1zM271 270h1v1h-1zM194 271h1v1h-1zM270 271h1v1h-1zM194 272h1v1h-1zM270 272h1v1h-1zM195 276h1v1h-1zM268 276h1v1h-1zM195 277h1v1h-1zM267 277h1v1h-1zM195 278h1v1h-1zM267 278h1v1h-1zM196 282h1v1h-1zM265 282h1v1h-1zM196 283h1v1h-1zM264 283h1v1h-1zM197 284h1v1h-1zM264 284h1v1h-1zM198 288h1v1h-1zM262 288h1v1h-1zM198 289h1v1h-1zM261 289h1v1h-1zM198 290h1v1h-1zM261 290h1v1h-1zM200 294h1v1h-1zM259 294h1v1h-1zM201 295h1v1h-1zM259 295h1v1h-1zM201 296h1v1h-1zM258 296h1v1h-1zM203 300h1v1h-1zM256 300h1v1h-1zM204 301h1v1h-1zM256 301h1v1h-1zM204 302h1v1h-1zM255 302h1v1h-1zM206 306h1v1h-1zM253 306h1v1h-1zM206 307h1v1h-1zM253 307h1v1h-1zM207 308h1v1h-1zM252 308h1v1h-1zM208 312h1v1h-1zM250 312h1v1h-1zM209 313h1v1h-1zM249 313h1v1h-1zM209 314h1v1h-1zM248 314h1v1h-1zM211 318h1v1h-1zM246 318h1v1h-1zM212 319h1v1h-1zM245 319h1v1h-1zM213 320h1v1h-1zM244 320h1v1h-1zM216 324h1v1h-1zM241 324h1v1h-1zM217 325h1v1h-1zM239 325h2v1h-2zM217 326h1v1h-1zM235 327h1v1h-1zM233 328h2v1h-2zM221 329h3v1h-3zM229 329h1v1h-1zM227 330h2v1h-2z" fill="#ff0000"/>
<path d="M16 31h1v1h-1zM16 32h2v1h-2zM15 33h1v1h-1zM18 33h2v1h-2zM15 34h1v1h-1zM20 34h1v1h-1zM14 35h1v1h-1zM21 35h1v1h-1zM14 36h1v1h-1zM22 36h1v1h-1zM13 37h1v1h-1zM23 37h2v1h-2zM66 37h4v1h-4zM13 38h1v1h-1zM25 38h3v1h-3zM65 38h1v1h-1zM70 38h1v1h-1zM13 39h1v1h-1zM28 39h4v1h-4zM65 39h1v1h-1zM70 39h1v1h-1zM12 40h1v1h-1zM32 40h2v1h-2zM64 40h1v1h-1zM71 40h1v1h-1zM12 41h1v1h-1zM34 41h2v1h-2zM64 41h1v1h-1zM72 41h1v1h-1zM11 42h1v1h-1zM36 42h2v1h-2zM63 42h1v1h-1zM72 42h1v1h-1zM11 43h1v1h-1zM38 43h1v1h-1zM63 43h1v1h-1zM73 43h1v1h-1zM10 44h1v1h-1zM39 44h1v1h-1zM62 44h1v1h-1zM74 44h1v1h-1zM10 45h1v1h-1zM40 45h1v1h-1zM62 45h1v1h-1zM74 45h1v1h-1zM10 46h1v1h-1zM41 46h1v1h-1zM61 46h1v1h-1zM75 46h1v1h-1zM9 47h1v1h-1zM42 47h1v1h-1zM61 47h1v1h-1zM75 47h1v1h-1zM9 48h1v1h-1zM43 48h1v1h-1zM60 48h1v1h-1zM76 48h1v1h-1zM8 49h1v1h-1zM44 49h1v1h-1zM60 49h1v1h-1zM76 49h1v1h-1zM8 50h1v1h-1zM44 50h1v1h-1zM59 50h1v1h-1zM76 50h1v1h-1zM8 51h1v1h-1zM45 51h1v1h-1zM59 51h1v1h-1zM77 51h1v1h-1zM7 52h1v1h-1zM45 52h1v1h-1zM58 52h1v1h-1zM77 52h1v1h-1zM7 53h1v1h-1zM46 53h1v1h-1zM52 53h6v1h-6zM77 53h1v1h-1zM6 54h1v1h-1zM46 54h1v1h-1zM51 54h1v1h-1zM77 54h1v1h-1zM6 55h1v1h-1zM47 55h1v1h-1zM50 55h1v1h-1zM78 55h1v1h-1zM6 56h1v1h-1zM47 56h1v1h-1zM49 56h1v1h-1zM78 56h1v1h-1zM5 57h1v1h-1zM48 57h1v1h-1zM78 57h1v1h-1zM5 58h1v1h-1zM79 58h1v1h-1zM4 59h1v1h-1zM79 59h1v1h-1zM4 60h1v1h-1zM80 60h1v1h-1zM4 61h1v1h-1zM80 61h1v1h-1zM3 62h1v1h-1zM80 62h1v1h-1zM3 63h1v1h-1zM81 63h1v1h-1zM3 64h1v1h-1zM81 64h1v1h-1zM2 65h1v1h-1zM82 65h1v1h-1zM2 66h1v1h-1zM82 66h1v1h-1zM2 67h1v1h-1zM82 67h1v1h-1zM2 68h1v1h-1zM83 68h1v1h-1zM1 69h1v1h-1zM83 69h1v1h-1zM1 70h1v1h-1zM83 70h1v1h-1zM1 71h1v1h-1zM84 71h1v1h-1zM0 72h1v1h-1zM84 72h1v1h-1zM0 73h1v1h-1zM84 73h1v1h-1zM85 74h1v1h-1zM85 75h1v1h-1zM85 76h1v1h-1zM86 77h1v1h-1zM86 78h1v1h-1zM87 79h1v1h-1zM87 80h1v1h-1zM88 81h1v1h-1zM89 82h1v1h-1zM89 83h1v1h-1zM90 84h1v1h-1zM91 85h1v1h-1zM91 86h1v1h-1zM92 87h1v1h-1zM93 88h1v1h-1zM93 89h1v1h-1zM94 90h1v1h-1zM94 91h1v1h-1zM95 92h1v1h-1zM95 93h1v1h-1zM96 94h1v1h-1zM97 95h1v1h-1zM98 96h1v1h-1zM99 97h1v1h-1zM100 98h1v1h-1zM101 99h1v1h-1zM102 100h1v1h-1zM103 101h1v1h-1zM103 102h1v1h-1zM104 103h1v1h-1zM104 104h1v1h-1zM105 105h1v1h-1zM105 106h1v1h-1zM106 107h1v1h-1zM106 108h1v1h-1zM106 109h1v1h-1zM107 110h1v1h-1zM107 111h1v1h-1zM108 112h1v1h-1zM108 113h1v1h-1zM109 114h1v1h-1zM109 115h1v1h-1zM110 116h1v1h-1zM110 117h1v1h-1zM110 118h1v1h-1zM111 119h1v1h-1zM111 120h1v1h-1zM112 121h1v1h-1zM112 122h1v1h-1zM113 123h1v1h-1zM113 124h1v1h-1zM114 125h1v1h-1zM114 126h1v1h-1zM115 127h1v1h-1zM115 128h1v1h-1zM116 129h1v1h-1zM116 130h1v1h-1zM117 131h1v1h-1zM117 132h1v1h-1zM118 133h1v1h-1zM118 134h1v1h-1zM119 135h1v1h-1zM119 136h1v1h-1zM120 137h1v1h-1zM120 138h1v1h-1zM121 139h1v1h-1zM122 140h1v1h-1zM122 141h1v1h-1zM123 142h1v1h-1zM124 143h1v1h-1zM124 144h1v1h-1zM125 145h1v1h-1zM126 146h1v1h-1zM126 147h1v1h-1zM127 148h1v1h-1zM127 149h1v1h-1zM128 150h1v1h-1zM129 151h1v1h-1zM129 152h1v1h-1zM130 153h1v1h-1zM131 154h1v1h-1zM131 155h1v1h-1zM132 156h1v1h-1zM133 157h2v1h-2zM135 158h2v1h-2zM137 159h1v1h-1zM138 160h2v1h-2zM140 161h1v1h-1zM141 162h2v1h-2zM143 163h2v1h-2zM145 164h1v1h-1zM146 165h1v1h-1zM146 166h1v1h-1zM147 167h1v1h-1zM148 168h1v1h-1zM148 169h1v1h-1zM149 170h1v1h-1zM150 171h1v1h-1zM150 172h1v1h-1zM151 173h1v1h-1zM151 174h1v1h-1zM152 175h1v1h-1zM607 175h2v1h-2zM152 176h1v1h-1zM605 176h2v1h-2zM153 177h1v1h-1zM603 177h2v1h-2zM153 178h1v1h-1zM601 178h2v1h-2zM154 179h1v1h-1zM599 179h2v1h-2zM154 180h1v1h-1zM598 180h1v1h-1zM154 181h1v1h-1zM596 181h2v1h-2zM155 182h1v1h-1zM594 182h2v1h-2zM155 183h1v1h-1zM593 183h1v1h-1zM156 184h1v1h-1zM591 184h2v1h-2zM156 185h1v1h-1zM590 185h1v1h-1zM156 186h1v1h-1zM589 186h1v1h-1zM156 187h1v1h-1zM587 187h2v1h-2zM157 188h1v1h-1zM586 188h1v1h-1zM157 189h1v1h-1zM585 189h1v1h-1zM157 190h1v1h-1zM584 190h1v1h-1zM157 191h1v1h-1zM582 191h2v1h-2zM157 192h1v1h-1zM581 192h1v1h-1zM158 193h1v1h-1zM580 193h1v1h-1zM158 194h1v1h-1zM579 194h1v1h-1zM158 195h1v1h-1zM460 195h1v1h-1zM578 195h1v1h-1zM158 196h1v1h-1zM459 196h1v1h-1zM461 196h2v1h-2zM577 196h1v1h-1zM158 197h1v1h-1zM458 197h1v1h-1zM463 197h2v1h-2zM576 197h1v1h-1zM159 198h1v1h-1zM329 198h14v1h-14zM458 198h1v1h-1zM465 198h1v1h-1zM575 198h1v1h-1zM159 199h1v1h-1zM325 199h4v1h-4zM343 199h2v1h-2zM457 199h1v1h-1zM465 199h1v1h-1zM574 199h1v1h-1zM159 200h1v1h-1zM325 200h1v1h-1zM345 200h2v1h-2zM456 200h1v1h-1zM466 200h1v1h-1zM573 200h1v1h-1zM159 201h1v1h-1zM324 201h1v1h-1zM347 201h2v1h-2zM455 201h1v1h-1zM466 201h1v1h-1zM572 201h1v1h-1zM160 202h1v1h-1zM324 202h1v1h-1zM349 202h1v1h-1zM455 202h1v1h-1zM467 202h1v1h-1zM571 202h1v1h-1zM160 203h1v1h-1zM323 203h1v1h-1zM350 203h2v1h-2zM454 203h1v1h-1zM467 203h1v1h-1zM570 203h1v1h-1zM161 204h1v1h-1zM323 204h1v1h-1zM352 204h1v1h-1zM454 204h1v1h-1zM468 204h1v1h-1zM569 204h1v1h-1zM161 205h1v1h-1zM320 205h3v1h-3zM353 205h2v1h-2zM453 205h1v1h-1zM468 205h1v1h-1zM568 205h1v1h-1zM162 206h1v1h-1zM287 206h3v1h-3zM318 206h2v1h-2zM355 206h3v1h-3zM452 206h1v1h-1zM469 206h1v1h-1zM567 206h1v1h-1zM162 207h1v1h-1zM285 207h2v1h-2zM290 207h3v1h-3zM317 207h1v1h-1zM358 207h1v1h-1zM452 207h1v1h-1zM470 207h1v1h-1zM566 207h1v1h-1zM162 208h1v1h-1zM283 208h2v1h-2zM293 208h2v1h-2zM315 208h2v1h-2zM358 208h1v1h-1zM451 208h1v1h-1zM471 208h1v1h-1zM565 208h1v1h-1zM163 209h1v1h-1zM281 209h2v1h-2zM295 209h2v1h-2zM314 209h1v1h-1zM359 209h1v1h-1zM451 209h1v1h-1zM472 209h1v1h-1zM564 209h1v1h-1zM163 210h1v1h-1zM280 210h1v1h-1zM297 210h2v1h-2zM313 210h1v1h-1zM359 210h1v1h-1zM450 210h1v1h-1zM473 210h1v1h-1zM563 210h1v1h-1zM164 211h1v1h-1zM279 211h1v1h-1zM299 211h2v1h-2zM312 211h1v1h-1zM360 211h1v1h-1zM449 211h1v1h-1zM473 211h1v1h-1zM563 211h1v1h-1zM164 212h1v1h-1zM279 212h1v1h-1zM301 212h2v1h-2zM311 212h1v1h-1zM361 212h1v1h-1zM449 212h1v1h-1zM474 212h1v1h-1zM562 212h1v1h-1zM165 213h1v1h-1zM278 213h1v1h-1zM303 213h2v1h-2zM311 213h1v1h-1zM362 213h1v1h-1zM448 213h1v1h-1zM475 213h1v1h-1zM561 213h1v1h-1zM165 214h1v1h-1zM278 214h1v1h-1zM305 214h1v1h-1zM310 214h1v1h-1zM363 214h1v1h-1zM448 214h1v1h-1zM476 214h1v1h-1zM560 214h1v1h-1zM166 215h1v1h-1zM277 215h1v1h-1zM306 215h2v1h-2zM309 215h1v1h-1zM364 215h1v1h-1zM447 215h1v1h-1zM477 215h1v1h-1zM559 215h1v1h-1zM166 216h1v1h-1zM277 216h1v1h-1zM308 216h1v1h-1zM365 216h1v1h-1zM447 216h1v1h-1zM478 216h1v1h-1zM558 216h1v1h-1zM167 217h1v1h-1zM276 217h1v1h-1zM366 217h1v1h-1zM446 217h1v1h-1zM478 217h1v1h-1zM558 217h1v1h-1zM167 218h1v1h-1zM275 218h1v1h-1zM367 218h1v1h-1zM446 218h1v1h-1zM479 218h1v1h-1zM557 218h1v1h-1zM168 219h1v1h-1zM275 219h1v1h-1zM367 219h1v1h-1zM445 219h1v1h-1zM479 219h1v1h-1zM556 219h1v1h-1zM168 220h1v1h-1zM274 220h1v1h-1zM368 220h1v1h-1zM445 220h1v1h-1zM480 220h1v1h-1zM555 220h1v1h-1zM169 221h1v1h-1zM274 221h1v1h-1zM369 221h1v1h-1zM445 221h1v1h-1zM480 221h1v1h-1zM554 221h1v1h-1zM170 222h1v1h-1zM273 222h1v1h-1zM370 222h1v1h-1zM444 222h1v1h-1zM481 222h1v1h-1zM553 222h1v1h-1zM171 223h1v1h-1zM273 223h1v1h-1zM371 223h1v1h-1zM444 223h1v1h-1zM481 223h1v1h-1zM552 223h1v1h-1zM172 224h1v1h-1zM272 224h1v1h-1zM372 224h1v1h-1zM443 224h1v1h-1zM482 224h1v1h-1zM551 224h1v1h-1zM173 225h1v1h-1zM272 225h1v1h-1zM373 225h1v1h-1zM443 225h1v1h-1zM482 225h1v1h-1zM550 225h1v1h-1zM174 226h1v1h-1zM271 226h1v1h-1zM374 226h2v1h-2zM441 226h2v1h-2zM483 226h1v1h-1zM549 226h1v1h-1zM174 227h1v1h-1zM271 227h1v1h-1zM376 227h2v1h-2zM439 227h2v1h-2zM484 227h1v1h-1zM548 227h1v1h-1zM174 228h1v1h-1zM270 228h1v1h-1zM378 228h1v1h-1zM428 228h11v1h-11zM485 228h1v1h-1zM548 228h1v1h-1zM174 229h1v1h-1zM270 229h1v1h-1zM379 229h2v1h-2zM426 229h2v1h-2zM485 229h1v1h-1zM547 229h1v1h-1zM174 230h1v1h-1zM269 230h1v1h-1zM381 230h1v1h-1zM424 230h2v1h-2zM486 230h1v1h-1zM546 230h1v1h-1zM174 231h1v1h-1zM269 231h1v1h-1zM382 231h2v1h-2zM423 231h1v1h-1zM487 231h1v1h-1zM545 231h1v1h-1zM174 232h1v1h-1zM268 232h1v1h-1zM384 232h1v1h-1zM422 232h1v1h-1zM488 232h1v1h-1zM544 232h1v1h-1zM174 233h1v1h-1zM268 233h1v1h-1zM385 233h1v1h-1zM421 233h1v1h-1zM489 233h1v1h-1zM543 233h1v1h-1zM174 234h1v1h-1zM267 234h1v1h-1zM386 234h1v1h-1zM420 234h1v1h-1zM490 234h1v1h-1zM542 234h1v1h-1zM174 235h1v1h-1zM267 235h1v1h-1zM387 235h2v1h-2zM419 235h1v1h-1zM490 235h1v1h-1zM541 235h1v1h-1zM174 236h1v1h-1zM267 236h1v1h-1zM389 236h1v1h-1zM418 236h1v1h-1zM491 236h1v1h-1zM540 236h1v1h-1zM174 237h1v1h-1zM266 237h1v1h-1zM390 237h1v1h-1zM417 237h1v1h-1zM492 237h1v1h-1zM540 237h1v1h-1zM175 238h1v1h-1zM266 238h1v1h-1zM391 238h1v1h-1zM416 238h1v1h-1zM493 238h2v1h-2zM539 238h1v1h-1zM175 239h1v1h-1zM266 239h1v1h-1zM392 239h1v1h-1zM401 239h2v1h-2zM415 239h1v1h-1zM495 239h1v1h-1zM538 239h1v1h-1zM175 240h1v1h-1zM266 240h1v1h-1zM393 240h2v1h-2zM399 240h2v1h-2zM403 240h2v1h-2zM413 240h2v1h-2zM496 240h1v1h-1zM537 240h1v1h-1zM175 241h1v1h-1zM265 241h1v1h-1zM395 241h1v1h-1zM397 241h2v1h-2zM405 241h2v1h-2zM412 241h1v1h-1zM497 241h2v1h-2zM535 241h2v1h-2zM175 242h1v1h-1zM265 242h1v1h-1zM396 242h1v1h-1zM407 242h2v1h-2zM411 242h1v1h-1zM499 242h1v1h-1zM534 242h1v1h-1zM175 243h1v1h-1zM265 243h1v1h-1zM409 243h2v1h-2zM500 243h2v1h-2zM533 243h1v1h-1zM175 244h1v1h-1zM264 244h1v1h-1zM502 244h1v1h-1zM532 244h1v1h-1zM175 245h1v1h-1zM264 245h1v1h-1zM503 245h1v1h-1zM531 245h1v1h-1zM175 246h1v1h-1zM264 246h1v1h-1zM504 246h2v1h-2zM529 246h2v1h-2zM176 247h1v1h-1zM263 247h1v1h-1zM506 247h1v1h-1zM528 247h1v1h-1zM176 248h1v1h-1zM263 248h1v1h-1zM507 248h1v1h-1zM527 248h1v1h-1zM176 249h1v1h-1zM263 249h1v1h-1zM508 249h2v1h-2zM524 249h3v1h-3zM176 250h1v1h-1zM263 250h1v1h-1zM510 250h4v1h-4zM520 250h4v1h-4zM176 251h1v1h-1zM262 251h1v1h-1zM514 251h6v1h-6zM176 252h1v1h-1zM262 252h1v1h-1zM176 253h1v1h-1zM262 253h1v1h-1zM176 254h1v1h-1zM262 254h1v1h-1zM177 255h1v1h-1zM261 255h1v1h-1zM177 256h1v1h-1zM261 256h1v1h-1zM177 257h1v1h-1zM261 257h1v1h-1zM177 258h1v1h-1zM261 258h1v1h-1zM177 259h1v1h-1zM260 259h1v1h-1zM177 260h1v1h-1zM260 260h1v1h-1zM177 261h1v1h-1zM260 261h1v1h-1zM178 262h1v1h-1zM259 262h1v1h-1zM178 263h1v1h-1zM259 263h1v1h-1zM178 264h1v1h-1zM259 264h1v1h-1zM178 265h1v1h-1zM258 265h1v1h-1zM178 266h1v1h-1zM258 266h1v1h-1zM178 267h1v1h-1zM257 267h1v1h-1zM179 268h1v1h-1zM257 268h1v1h-1zM179 269h1v1h-1zM257 269h1v1h-1zM179 270h1v1h-1zM256 270h1v1h-1zM179 271h1v1h-1zM256 271h1v1h-1zM179 272h1v1h-1zM256 272h1v1h-1zM179 273h1v1h-1zM255 273h1v1h-1zM180 274h1v1h-1zM255 274h1v1h-1zM180 275h1v1h-1zM255 275h1v1h-1zM180 276h1v1h-1zM254 276h1v1h-1zM180 277h1v1h-1zM254 277h1v1h-1zM180 278h1v1h-1zM254 278h1v1h-1zM180 279h1v1h-1zM253 279h1v1h-1zM180 280h1v1h-1zM253 280h1v1h-1zM180 281h1v1h-1zM252 281h1v1h-1zM181 282h1v1h-1zM252 282h1v1h-1zM181 283h1v1h-1zM252 283h1v1h-1zM181 284h1v1h-1zM251 284h1v1h-1zM181 285h1v1h-1zM251 285h1v1h-1zM181 286h1v1h-1zM251 286h1v1h-1zM181 287h1v1h-1zM250 287h1v1h-1zM181 288h1v1h-1zM250 288h1v1h-1zM181 289h1v1h-1zM249 289h1v1h-1zM181 290h1v1h-1zM249 290h1v1h-1zM181 291h1v1h-1zM249 291h1v1h-1zM181 292h1v1h-1zM248 292h1v1h-1zM182 293h1v1h-1zM248 293h1v1h-1zM182 294h1v1h-1zM247 294h1v1h-1zM182 295h1v1h-1zM247 295h1v1h-1zM182 296h1v1h-1zM247 296h1v1h-1zM182 297h1v1h-1zM246 297h1v1h-1zM182 298h1v1h-1zM246 298h1v1h-1zM182 299h1v1h-1zM245 299h1v1h-1zM182 300h1v1h-1zM245 300h1v1h-1zM183 301h1v1h-1zM245 301h1v1h-1zM183 302h1v1h-1zM244 302h1v1h-1zM183 303h1v1h-1zM244 303h1v1h-1zM183 304h1v1h-1zM243 304h1v1h-1zM183 305h1v1h-1zM243 305h1v1h-1zM184 306h1v1h-1zM242 306h1v1h-1zM184 307h1v1h-1zM242 307h1v1h-1zM184 308h1v1h-1zM241 308h1v1h-1zM184 309h1v1h-1zM241 309h1v1h-1zM185 310h1v1h-1zM241 310h1v1h-1zM185 311h1v1h-1zM240 311h1v1h-1zM185 312h1v1h-1zM240 312h1v1h-1zM185 313h1v1h-1zM239 313h1v1h-1zM185 314h1v1h-1zM239 314h1v1h-1zM186 315h1v1h-1zM238 315h1v1h-1zM186 316h1v1h-1zM238 316h1v1h-1zM186 317h1v1h-1zM237 317h1v1h-1zM186 318h1v1h-1zM237 318h1v1h-1zM187 319h1v1h-1zM236 319h1v1h-1zM187 320h1v1h-1zM236 320h1v1h-1zM187 321h1v1h-1zM235 321h1v1h-1zM188 322h1v1h-1zM235 322h1v1h-1zM188 323h1v1h-1zM234 323h1v1h-1zM188 324h1v1h-1zM233 324h1v1h-1zM189 325h1v1h-1zM232 325h1v1h-1zM189 326h1v1h-1zM232 326h1v1h-1zM189 327h1v1h-1zM231 327h1v1h-1zM190 328h1v1h-1zM230 328h1v1h-1zM190 329h1v1h-1zM229 329h1v1h-1zM190 330h1v1h-1zM229 330h1v1h-1zM191 331h1v1h-1zM228 331h1v1h-1zM191 332h1v1h-1zM227 332h1v1h-1zM191 333h1v1h-1zM226 333h1v1h-1zM192 334h1v1h-1zM226 334h1v1h-1zM192 335h1v1h-1zM225 335h1v1h-1zM192 336h1v1h-1zM225 336h1v1h-1zM193 337h1v1h-1zM224 337h1v1h-1zM193 338h1v1h-1zM224 338h1v1h-1zM194 339h1v1h-1zM223 339h1v1h-1zM194 340h1v1h-1zM223 340h1v1h-1zM195 341h1v1h-1zM222 341h1v1h-1zM195 342h1v1h-1zM222 342h1v1h-1zM196 343h1v1h-1zM221 343h1v1h-1zM197 344h1v1h-1zM221 344h1v1h-1zM198 345h1v1h-1zM220 345h1v1h-1zM198 346h1v1h-1zM220 346h1v1h-1zM199 347h1v1h-1zM219 347h1v1h-1zM200 348h1v1h-1zM219 348h1v1h-1zM201 349h3v1h-3zM218 349h1v1h-1zM204 350h5v1h-5zM216 350h2v1h-2zM209 351h3v1h-3zM214 351h2v1h-2zM212 352h2v1h-2z" fill="#33cc33"/>
<path d="M79 62h3v1h-3zM78 63h1v1h-1zM82 63h3v1h-3zM78 64h1v1h-1zM85 64h1v1h-1zM77 65h1v1h-1zM85 65h1v1h-1zM76 66h1v1h-1zM86 66h1v1h-1zM76 67h1v1h-1zM87 67h1v1h-1zM75 68h1v1h-1zM87 68h1v1h-1zM75 69h1v1h-1zM88 69h1v1h-1zM74 70h1v1h-1zM88 70h1v1h-1zM74 71h1v1h-1zM89 71h1v1h-1zM74 72h1v1h-1zM89 72h1v1h-1zM74 73h1v1h-1zM89 73h1v1h-1zM73 74h1v1h-1zM90 74h1v1h-1zM73 75h1v1h-1zM90 75h1v1h-1zM73 76h1v1h-1zM90 76h1v1h-1zM72 77h1v1h-1zM91 77h1v1h-1zM72 78h1v1h-1zM91 78h1v1h-1zM72 79h1v1h-1zM91 79h1v1h-1zM71 80h1v1h-1zM91 80h1v1h-1zM71 81h1v1h-1zM92 81h1v1h-1zM71 82h1v1h-1zM92 82h1v1h-1zM71 83h1v1h-1zM92 83h1v1h-1zM70 84h1v1h-1zM93 84h1v1h-1zM70 85h1v1h-1zM93 85h1v1h-1zM70 86h1v1h-1zM93 86h1v1h-1zM69 87h1v1h-1zM94 87h1v1h-1zM69 88h1v1h-1zM94 88h1v1h-1zM69 89h1v1h-1zM95 89h1v1h-1zM68 90h1v1h-1zM95 90h1v1h-1zM68 91h1v1h-1zM96 91h1v1h-1zM68 92h1v1h-1zM97 92h1v1h-1zM68 93h1v1h-1zM97 93h1v1h-1zM67 94h1v1h-1zM98 94h1v1h-1zM67 95h1v1h-1zM98 95h1v1h-1zM111 95h3v1h-3zM67 96h1v1h-1zM99 96h1v1h-1zM107 96h4v1h-4zM114 96h1v1h-1zM66 97h1v1h-1zM100 97h1v1h-1zM104 97h3v1h-3zM115 97h1v1h-1zM66 98h1v1h-1zM100 98h1v1h-1zM102 98h2v1h-2zM116 98h2v1h-2zM66 99h1v1h-1zM101 99h1v1h-1zM118 99h1v1h-1zM65 100h1v1h-1zM119 100h1v1h-1zM65 101h1v1h-1zM120 101h1v1h-1zM64 102h1v1h-1zM121 102h1v1h-1zM64 103h1v1h-1zM122 103h1v1h-1zM63 104h1v1h-1zM123 104h1v1h-1zM63 105h1v1h-1zM124 105h1v1h-1zM63 106h1v1h-1zM125 106h1v1h-1zM62 107h1v1h-1zM126 107h1v1h-1zM62 108h1v1h-1zM127 108h1v1h-1zM61 109h1v1h-1zM127 109h1v1h-1zM61 110h1v1h-1zM128 110h1v1h-1zM60 111h1v1h-1zM128 111h6v1h-6zM143 111h12v1h-12zM60 112h1v1h-1zM134 112h1v1h-1zM141 112h2v1h-2zM155 112h2v1h-2zM59 113h1v1h-1zM135 113h2v1h-2zM139 113h2v1h-2zM157 113h2v1h-2zM59 114h1v1h-1zM137 114h2v1h-2zM159 114h1v1h-1zM58 115h1v1h-1zM159 115h1v1h-1zM58 116h1v1h-1zM160 116h1v1h-1zM57 117h1v1h-1zM161 117h1v1h-1zM57 118h1v1h-1zM161 118h1v1h-1zM56 119h1v1h-1zM162 119h1v1h-1zM55 120h1v1h-1zM162 120h1v1h-1zM55 121h1v1h-1zM163 121h1v1h-1zM54 122h1v1h-1zM163 122h1v1h-1zM53 123h1v1h-1zM163 123h1v1h-1zM53 124h1v1h-1zM164 124h1v1h-1zM25 125h1v1h-1zM34 125h1v1h-1zM52 125h1v1h-1zM164 125h1v1h-1zM23 126h2v1h-2zM26 126h2v1h-2zM32 126h2v1h-2zM35 126h1v1h-1zM50 126h2v1h-2zM164 126h1v1h-1zM22 127h1v1h-1zM28 127h2v1h-2zM31 127h1v1h-1zM36 127h1v1h-1zM48 127h2v1h-2zM165 127h1v1h-1zM21 128h1v1h-1zM30 128h1v1h-1zM36 128h1v1h-1zM47 128h1v1h-1zM165 128h1v1h-1zM21 129h1v1h-1zM37 129h1v1h-1zM45 129h2v1h-2zM166 129h1v1h-1zM21 130h1v1h-1zM38 130h7v1h-7zM166 130h1v1h-1zM20 131h1v1h-1zM166 131h1v1h-1zM20 132h1v1h-1zM167 132h1v1h-1zM20 133h1v1h-1zM167 133h1v1h-1zM20 134h1v1h-1zM167 134h1v1h-1zM20 135h1v1h-1zM168 135h1v1h-1zM19 136h1v1h-1zM168 136h1v1h-1zM19 137h1v1h-1zM168 137h1v1h-1zM19 138h1v1h-1zM168 138h1v1h-1zM19 139h1v1h-1zM169 139h1v1h-1zM18 140h1v1h-1zM169 140h1v1h-1zM18 141h1v1h-1zM169 141h1v1h-1zM18 142h1v1h-1zM170 142h1v1h-1zM17 143h1v1h-1zM170 143h1v1h-1zM17 144h1v1h-1zM171 144h1v1h-1zM17 145h1v1h-1zM171 145h1v1h-1zM16 146h1v1h-1zM172 146h1v1h-1zM16 147h1v1h-1zM172 147h1v1h-1zM16 148h1v1h-1zM173 148h1v1h-1zM15 149h1v1h-1zM173 149h1v1h-1zM15 150h1v1h-1zM174 150h1v1h-1zM15 151h1v1h-1zM174 151h1v1h-1zM15 152h1v1h-1zM175 152h1v1h-1zM15 153h1v1h-1zM175 153h1v1h-1zM14 154h1v1h-1zM176 154h1v1h-1zM14 155h1v1h-1zM176 155h1v1h-1zM14 156h1v1h-1zM177 156h1v1h-1zM14 157h1v1h-1zM177 157h1v1h-1zM14 158h1v1h-1zM178 158h1v1h-1zM14 159h1v1h-1zM178 159h1v1h-1zM14 160h1v1h-1zM178 160h1v1h-1zM14 161h1v1h-1zM178 161h1v1h-1zM13 162h1v1h-1zM178 162h1v1h-1zM13 163h1v1h-1zM179 163h1v1h-1zM13 164h1v1h-1zM179 164h1v1h-1zM13 165h1v1h-1zM179 165h1v1h-1zM13 166h1v1h-1zM179 166h1v1h-1zM13 167h1v1h-1zM179 167h1v1h-1zM13 168h1v1h-1zM179 168h1v1h-1zM13 169h1v1h-1zM179 169h1v1h-1zM12 170h1v1h-1zM179 170h1v1h-1zM12 171h1v1h-1zM180 171h1v1h-1zM12 172h1v1h-1zM180 172h1v1h-1zM12 173h1v1h-1zM180 173h1v1h-1zM12 174h1v1h-1zM180 174h1v1h-1zM12 175h1v1h-1zM180 175h1v1h-1zM12 176h1v1h-1zM180 176h1v1h-1zM12 177h1v1h-1zM181 177h1v1h-1zM11 178h1v1h-1zM181 178h1v1h-1zM11 179h1v1h-1zM181 179h1v1h-1zM11 180h1v1h-1zM181 180h1v1h-1zM11 181h1v1h-1zM182 181h1v1h-1zM11 182h1v1h-1zM182 182h1v1h-1zM11 183h1v1h-1zM182 183h1v1h-1zM11 184h1v1h-1zM182 184h1v1h-1zM11 185h1v1h-1zM182 185h1v1h-1zM10 186h1v1h-1zM183 186h1v1h-1zM10 187h1v1h-1zM183 187h1v1h-1zM10 188h1v1h-1zM183 188h1v1h-1zM10 189h1v1h-1zM183 189h1v1h-1zM10 190h1v1h-1zM183 190h1v1h-1zM10 191h1v1h-1zM183 191h1v1h-1zM9 192h1v1h-1zM183 192h1v1h-1zM9 193h1v1h-1zM183 193h1v1h-1zM9 194h1v1h-1zM183 194h1v1h-1zM9 195h1v1h-1zM183 195h1v1h-1zM8 196h1v1h-1zM183 196h1v1h-1zM8 197h1v1h-1zM183 197h1v1h-1zM8 198h1v1h-1zM184 198h1v1h-1zM8 199h1v1h-1zM184 199h1v1h-1zM7 200h1v1h-1zM184 200h1v1h-1zM7 201h1v1h-1zM184 201h1v1h-1zM7 202h1v1h-1zM184 202h1v1h-1zM7 203h1v1h-1zM184 203h1v1h-1zM6 204h1v1h-1zM184 204h1v1h-1zM6 205h1v1h-1zM184 205h1v1h-1zM6 206h1v1h-1zM184 206h1v1h-1zM6 207h1v1h-1zM184 207h1v1h-1zM5 208h1v1h-1zM185 208h1v1h-1zM5 209h1v1h-1zM185 209h1v1h-1zM5 210h1v1h-1zM185 210h1v1h-1zM5 211h1v1h-1zM185 211h1v1h-1zM4 212h1v1h-1zM185 212h1v1h-1zM4 213h1v1h-1zM186 213h1v1h-1zM4 214h1v1h-1zM186 214h1v1h-1zM4 215h1v1h-1zM186 215h1v1h-1zM4 216h1v1h-1zM186 216h1v1h-1zM3 217h1v1h-1zM186 217h1v1h-1zM3 218h1v1h-1zM186 218h1v1h-1zM3 219h1v1h-1zM186 219h1v1h-1zM3 220h1v1h-1zM187 220h1v1h-1zM3 221h1v1h-1zM187 221h1v1h-1zM3 222h1v1h-1zM187 222h1v1h-1zM2 223h1v1h-1zM187 223h1v1h-1zM2 224h1v1h-1zM187 224h1v1h-1zM2 225h1v1h-1zM187 225h1v1h-1zM2 226h1v1h-1zM188 226h1v1h-1zM2 227h1v1h-1zM188 227h1v1h-1zM1 228h1v1h-1zM188 228h1v1h-1zM288 228h3v1h-3zM1 229h1v1h-1zM188 229h1v1h-1zM286 229h2v1h-2zM291 229h3v1h-3zM1 230h1v1h-1zM189 230h1v1h-1zM284 230h2v1h-2zM294 230h1v1h-1zM1 231h1v1h-1zM189 231h1v1h-1zM282 231h2v1h-2zM295 231h1v1h-1zM1 232h1v1h-1zM189 232h1v1h-1zM281 232h1v1h-1zM295 232h1v1h-1zM1 233h1v1h-1zM189 233h1v1h-1zM280 233h1v1h-1zM296 233h1v1h-1zM0 234h1v1h-1zM190 234h1v1h-1zM279 234h1v1h-1zM297 234h1v1h-1zM0 235h1v1h-1zM190 235h1v1h-1zM278 235h1v1h-1zM298 235h1v1h-1zM0 236h1v1h-1zM190 236h1v1h-1zM277 236h1v1h-1zM299 236h1v1h-1zM190 237h1v1h-1zM276 237h1v1h-1zM299 237h1v1h-1zM190 238h1v1h-1zM275 238h1v1h-1zM300 238h1v1h-1zM190 239h1v1h-1zM274 239h1v1h-1zM301 239h1v1h-1zM336 239h7v1h-7zM191 240h1v1h-1zM274 240h1v1h-1zM302 240h1v1h-1zM335 240h1v1h-1zM343 240h3v1h-3zM191 241h1v1h-1zM273 241h1v1h-1zM303 241h1v1h-1zM334 241h1v1h-1zM346 241h2v1h-2zM191 242h1v1h-1zM273 242h1v1h-1zM304 242h1v1h-1zM334 242h1v1h-1zM348 242h1v1h-1zM191 243h1v1h-1zM272 243h1v1h-1zM305 243h1v1h-1zM333 243h1v1h-1zM349 243h2v1h-2zM191 244h1v1h-1zM272 244h1v1h-1zM305 244h1v1h-1zM332 244h1v1h-1zM351 244h1v1h-1zM191 245h1v1h-1zM272 245h1v1h-1zM306 245h1v1h-1zM331 245h1v1h-1zM352 245h1v1h-1zM191 246h1v1h-1zM271 246h1v1h-1zM307 246h1v1h-1zM330 246h1v1h-1zM353 246h2v1h-2zM191 247h1v1h-1zM271 247h1v1h-1zM308 247h1v1h-1zM329 247h1v1h-1zM355 247h1v1h-1zM192 248h1v1h-1zM271 248h1v1h-1zM309 248h1v1h-1zM328 248h1v1h-1zM356 248h1v1h-1zM192 249h1v1h-1zM270 249h1v1h-1zM310 249h1v1h-1zM327 249h1v1h-1zM357 249h2v1h-2zM192 250h1v1h-1zM270 250h1v1h-1zM311 250h1v1h-1zM326 250h1v1h-1zM359 250h1v1h-1zM192 251h1v1h-1zM269 251h1v1h-1zM312 251h1v1h-1zM324 251h2v1h-2zM360 251h1v1h-1zM192 252h1v1h-1zM269 252h1v1h-1zM313 252h1v1h-1zM321 252h3v1h-3zM361 252h2v1h-2zM192 253h1v1h-1zM269 253h1v1h-1zM314 253h7v1h-7zM363 253h2v1h-2zM192 254h1v1h-1zM268 254h1v1h-1zM365 254h2v1h-2zM192 255h1v1h-1zM268 255h1v1h-1zM367 255h1v1h-1zM193 256h1v1h-1zM267 256h1v1h-1zM368 256h1v1h-1zM193 257h1v1h-1zM267 257h1v1h-1zM368 257h1v1h-1zM193 258h1v1h-1zM266 258h1v1h-1zM369 258h1v1h-1zM469 258h1v1h-1zM193 259h1v1h-1zM266 259h1v1h-1zM370 259h1v1h-1zM468 259h1v1h-1zM470 259h1v1h-1zM193 260h1v1h-1zM265 260h1v1h-1zM371 260h1v1h-1zM468 260h1v1h-1zM471 260h2v1h-2zM193 261h1v1h-1zM265 261h1v1h-1zM371 261h1v1h-1zM467 261h1v1h-1zM473 261h1v1h-1zM194 262h1v1h-1zM264 262h1v1h-1zM372 262h1v1h-1zM466 262h1v1h-1zM474 262h1v1h-1zM194 263h1v1h-1zM264 263h1v1h-1zM373 263h1v1h-1zM465 263h1v1h-1zM474 263h1v1h-1zM194 264h1v1h-1zM263 264h1v1h-1zM374 264h1v1h-1zM465 264h1v1h-1zM475 264h1v1h-1zM194 265h1v1h-1zM263 265h1v1h-1zM374 265h1v1h-1zM464 265h1v1h-1zM475 265h1v1h-1zM194 266h1v1h-1zM262 266h1v1h-1zM375 266h1v1h-1zM463 266h1v1h-1zM476 266h1v1h-1zM194 267h1v1h-1zM262 267h1v1h-1zM376 267h1v1h-1zM462 267h1v1h-1zM476 267h1v1h-1zM194 268h1v1h-1zM261 268h1v1h-1zM377 268h1v1h-1zM462 268h1v1h-1zM477 268h1v1h-1zM195 269h1v1h-1zM261 269h1v1h-1zM377 269h1v1h-1zM461 269h1v1h-1zM477 269h1v1h-1zM195 270h1v1h-1zM261 270h1v1h-1zM378 270h1v1h-1zM460 270h1v1h-1zM478 270h1v1h-1zM195 271h1v1h-1zM260 271h1v1h-1zM379 271h1v1h-1zM459 271h1v1h-1zM479 271h1v1h-1zM195 272h1v1h-1zM260 272h1v1h-1zM380 272h1v1h-1zM459 272h1v1h-1zM479 272h1v1h-1zM195 273h1v1h-1zM260 273h1v1h-1zM380 273h1v1h-1zM458 273h1v1h-1zM480 273h1v1h-1zM195 274h1v1h-1zM259 274h1v1h-1zM381 274h1v1h-1zM457 274h1v1h-1zM480 274h1v1h-1zM195 275h1v1h-1zM259 275h1v1h-1zM382 275h1v1h-1zM457 275h1v1h-1zM481 275h1v1h-1zM196 276h1v1h-1zM258 276h1v1h-1zM383 276h1v1h-1zM456 276h1v1h-1zM481 276h1v1h-1zM196 277h1v1h-1zM257 277h1v1h-1zM383 277h1v1h-1zM456 277h1v1h-1zM482 277h1v1h-1zM196 278h1v1h-1zM257 278h1v1h-1zM384 278h1v1h-1zM455 278h1v1h-1zM482 278h1v1h-1zM196 279h1v1h-1zM256 279h1v1h-1zM385 279h1v1h-1zM454 279h1v1h-1zM483 279h1v1h-1zM196 280h1v1h-1zM255 280h1v1h-1zM386 280h1v1h-1zM454 280h1v1h-1zM483 280h1v1h-1zM196 281h1v1h-1zM254 281h1v1h-1zM386 281h1v1h-1zM453 281h1v1h-1zM483 281h1v1h-1zM196 282h1v1h-1zM253 282h1v1h-1zM387 282h1v1h-1zM452 282h1v1h-1zM484 282h1v1h-1zM197 283h1v1h-1zM253 283h1v1h-1zM388 283h2v1h-2zM452 283h1v1h-1zM484 283h1v1h-1zM197 284h1v1h-1zM252 284h1v1h-1zM390 284h2v1h-2zM451 284h1v1h-1zM484 284h1v1h-1zM197 285h1v1h-1zM251 285h1v1h-1zM392 285h1v1h-1zM451 285h1v1h-1zM485 285h1v1h-1zM197 286h1v1h-1zM249 286h2v1h-2zM393 286h1v1h-1zM450 286h1v1h-1zM485 286h1v1h-1zM607 286h1v1h-1zM197 287h1v1h-1zM247 287h2v1h-2zM394 287h1v1h-1zM449 287h1v1h-1zM485 287h1v1h-1zM605 287h2v1h-2zM197 288h1v1h-1zM246 288h1v1h-1zM395 288h1v1h-1zM438 288h6v1h-6zM449 288h1v1h-1zM486 288h1v1h-1zM603 288h2v1h-2zM197 289h1v1h-1zM244 289h2v1h-2zM396 289h2v1h-2zM435 289h3v1h-3zM444 289h5v1h-5zM486 289h1v1h-1zM601 289h2v1h-2zM197 290h1v1h-1zM243 290h1v1h-1zM398 290h1v1h-1zM424 290h11v1h-11zM486 290h1v1h-1zM599 290h2v1h-2zM198 291h1v1h-1zM241 291h2v1h-2zM399 291h1v1h-1zM422 291h2v1h-2zM487 291h1v1h-1zM598 291h1v1h-1zM198 292h1v1h-1zM239 292h2v1h-2zM400 292h1v1h-1zM420 292h2v1h-2zM487 292h1v1h-1zM596 292h2v1h-2zM198 293h1v1h-1zM238 293h1v1h-1zM401 293h2v1h-2zM419 293h1v1h-1zM487 293h1v1h-1zM594 293h2v1h-2zM198 294h1v1h-1zM236 294h2v1h-2zM403 294h11v1h-11zM417 294h2v1h-2zM488 294h1v1h-1zM593 294h1v1h-1zM198 295h1v1h-1zM235 295h1v1h-1zM414 295h3v1h-3zM488 295h1v1h-1zM591 295h2v1h-2zM198 296h1v1h-1zM234 296h1v1h-1zM488 296h1v1h-1zM589 296h2v1h-2zM198 297h1v1h-1zM232 297h2v1h-2zM489 297h1v1h-1zM586 297h3v1h-3zM198 298h1v1h-1zM231 298h1v1h-1zM489 298h1v1h-1zM583 298h3v1h-3zM199 299h1v1h-1zM228 299h3v1h-3zM489 299h1v1h-1zM580 299h3v1h-3zM199 300h1v1h-1zM224 300h4v1h-4zM490 300h1v1h-1zM578 300h2v1h-2zM199 301h1v1h-1zM220 301h4v1h-4zM490 301h1v1h-1zM577 301h1v1h-1zM199 302h1v1h-1zM217 302h3v1h-3zM490 302h1v1h-1zM576 302h1v1h-1zM199 303h1v1h-1zM215 303h2v1h-2zM491 303h1v1h-1zM575 303h1v1h-1zM199 304h1v1h-1zM213 304h2v1h-2zM491 304h1v1h-1zM574 304h1v1h-1zM199 305h1v1h-1zM211 305h2v1h-2zM491 305h1v1h-1zM572 305h2v1h-2zM200 306h1v1h-1zM210 306h1v1h-1zM492 306h1v1h-1zM571 306h1v1h-1zM200 307h1v1h-1zM209 307h1v1h-1zM492 307h1v1h-1zM570 307h1v1h-1zM200 308h1v1h-1zM208 308h1v1h-1zM492 308h1v1h-1zM569 308h1v1h-1zM201 309h2v1h-2zM207 309h1v1h-1zM493 309h1v1h-1zM568 309h1v1h-1zM203 310h2v1h-2zM206 310h1v1h-1zM493 310h1v1h-1zM567 310h1v1h-1zM205 311h1v1h-1zM493 311h1v1h-1zM566 311h1v1h-1zM494 312h1v1h-1zM565 312h1v1h-1zM494 313h1v1h-1zM564 313h1v1h-1zM495 314h1v1h-1zM564 314h1v1h-1zM496 315h1v1h-1zM563 315h1v1h-1zM497 316h2v1h-2zM562 316h1v1h-1zM499 317h1v1h-1zM561 317h1v1h-1zM500 318h1v1h-1zM560 318h1v1h-1zM501 319h1v1h-1zM559 319h1v1h-1zM502 320h2v1h-2zM559 320h1v1h-1zM504 321h1v1h-1zM558 321h1v1h-1zM505 322h2v1h-2zM557 322h1v1h-1zM507 323h1v1h-1zM556 323h1v1h-1zM508 324h2v1h-2zM554 324h2v1h-2zM510 325h1v1h-1zM553 325h1v1h-1zM511 326h1v1h-1zM551 326h2v1h-2zM512 327h1v1h-1zM550 327h1v1h-1zM513 328h1v1h-1zM549 328h1v1h-1zM514 329h1v1h-1zM547 329h2v1h-2zM515 330h1v1h-1zM546 330h1v1h-1zM516 331h1v1h-1zM545 331h1v1h-1zM517 332h1v1h-1zM543 332h2v1h-2zM518 333h1v1h-1zM542 333h1v1h-1zM519 334h2v1h-2zM541 334h1v1h-1zM521 335h2v1h-2zM540 335h1v1h-1zM523 336h2v1h-2zM538 336h2v1h-2zM525 337h2v1h-2zM537 337h1v1h-1zM527 338h10v1h-10z" fill="#7399c6"/>
</g>
<rect x="0" y="349" width="660" height="2" fill="#ff9f4a" shape-rendering="crispEdges"/>
<g shape-rendering="crispEdges"><path d="M159 201h3v1h-3zM162 202h5v1h-5zM167 203h6v1h-6zM173 204h5v1h-5zM178 205h5v1h-5zM183 206h6v1h-6zM189 207h5v1h-5zM194 208h5v1h-5zM199 209h5v1h-5zM204 210h6v1h-6zM210 211h5v1h-5zM215 212h5v1h-5zM220 213h5v1h-5zM225 214h6v1h-6zM231 215h5v1h-5zM236 216h5v1h-5zM241 217h6v1h-6zM247 218h5v1h-5zM252 219h5v1h-5zM257 220h5v1h-5zM262 221h6v1h-6zM268 222h5v1h-5zM273 223h5v1h-5zM278 224h5v1h-5zM283 225h6v1h-6zM289 226h5v1h-5zM294 227h5v1h-5zM299 228h6v1h-6zM305 229h5v1h-5zM310 230h5v1h-5zM315 231h5v1h-5zM320 232h6v1h-6zM326 233h5v1h-5zM331 234h5v1h-5zM336 235h5v1h-5zM341 236h6v1h-6zM347 237h5v1h-5zM352 238h5v1h-5zM357 239h6v1h-6zM363 240h5v1h-5zM368 241h5v1h-5zM373 242h5v1h-5zM378 243h6v1h-6zM384 244h5v1h-5zM389 245h5v1h-5zM394 246h5v1h-5zM399 247h6v1h-6zM405 248h5v1h-5zM410 249h5v1h-5zM415 250h6v1h-6zM421 251h5v1h-5zM426 252h5v1h-5zM431 253h5v1h-5zM436 254h6v1h-6zM442 255h5v1h-5zM447 256h5v1h-5zM452 257h6v1h-6zM458 258h5v1h-5zM463 259h5v1h-5zM468 260h5v1h-5zM473 261h6v1h-6zM479 262h5v1h-5zM484 263h5v1h-5zM489 264h5v1h-5zM494 265h6v1h-6zM500 266h5v1h-5zM505 267h5v1h-5zM510 268h6v1h-6zM516 269h5v1h-5zM521 270h5v1h-5zM526 271h5v1h-5zM531 272h6v1h-6zM537 273h5v1h-5zM542 274h5v1h-5zM547 275h5v1h-5zM552 276h6v1h-6zM558 277h5v1h-5zM563 278h5v1h-5zM568 279h6v1h-6zM574 280h5v1h-5zM579 281h5v1h-5zM584 282h5v1h-5zM589 283h6v1h-6zM595 284h5v1h-5zM600 285h5v1h-5zM605 286h5v1h-5zM610 287h6v1h-6zM616 288h5v1h-5zM621 289h5v1h-5zM626 290h6v1h-6zM632 291h5v1h-5zM637 292h3v1h-3z" fill="#ff9f4a"/></g>
<g shape-rendering="crispEdges"><rect x="18" y="113" width="3" height="6" fill="#ff0000"/><rect x="16" y="119" width="8" height="1" fill="#ff0000"/><rect x="17" y="120" width="6" height="1" fill="#ff0000"/><rect x="18" y="121" width="4" height="1" fill="#ff0000"/><rect x="18" y="122" width="3" height="1" fill="#ff0000"/><rect x="19" y="123" width="1" height="1" fill="#ff0000"/><rect x="41" y="101" width="3" height="6" fill="#ff0000"/><rect x="39" y="107" width="8" height="1" fill="#ff0000"/><rect x="40" y="108" width="6" height="1" fill="#ff0000"/><rect x="41" y="109" width="4" height="1" fill="#ff0000"/><rect x="41" y="110" width="3" height="1" fill="#ff0000"/><rect x="42" y="111" width="1" height="1" fill="#ff0000"/><rect x="68" y="31" width="3" height="6" fill="#ff0000"/><rect x="66" y="37" width="8" height="1" fill="#ff0000"/><rect x="67" y="38" width="6" height="1" fill="#ff0000"/><rect x="68" y="39" width="4" height="1" fill="#ff0000"/><rect x="68" y="40" width="3" height="1" fill="#ff0000"/><rect x="69" y="41" width="1" height="1" fill="#ff0000"/><rect x="99" y="71" width="3" height="6" fill="#ff0000"/><rect x="97" y="77" width="8" height="1" fill="#ff0000"/><rect x="98" y="78" width="6" height="1" fill="#ff0000"/><rect x="99" y="79" width="4" height="1" fill="#ff0000"/><rect x="99" y="80" width="3" height="1" fill="#ff0000"/><rect x="100" y="81" width="1" height="1" fill="#ff0000"/><rect x="126" y="93" width="3" height="6" fill="#ff0000"/><rect x="124" y="99" width="8" height="1" fill="#ff0000"/><rect x="125" y="100" width="6" height="1" fill="#ff0000"/><rect x="126" y="101" width="4" height="1" fill="#ff0000"/><rect x="126" y="102" width="3" height="1" fill="#ff0000"/><rect x="127" y="103" width="1" height="1" fill="#ff0000"/><rect x="148" y="95" width="3" height="6" fill="#ff0000"/><rect x="146" y="101" width="8" height="1" fill="#ff0000"/><rect x="147" y="102" width="6" height="1" fill="#ff0000"/><rect x="148" y="103" width="4" height="1" fill="#ff0000"/><rect x="148" y="104" width="3" height="1" fill="#ff0000"/><rect x="149" y="105" width="1" height="1" fill="#ff0000"/><rect x="287" y="229" width="3" height="6" fill="#ff0000"/><rect x="285" y="235" width="8" height="1" fill="#ff0000"/><rect x="286" y="236" width="6" height="1" fill="#ff0000"/><rect x="287" y="237" width="4" height="1" fill="#ff0000"/><rect x="287" y="238" width="3" height="1" fill="#ff0000"/><rect x="288" y="239" width="1" height="1" fill="#ff0000"/><rect x="346" y="231" width="3" height="6" fill="#ff0000"/><rect x="344" y="237" width="8" height="1" fill="#ff0000"/><rect x="345" y="238" width="6" height="1" fill="#ff0000"/><rect x="346" y="239" width="4" height="1" fill="#ff0000"/><rect x="346" y="240" width="3" height="1" fill="#ff0000"/><rect x="347" y="241" width="1" height="1" fill="#ff0000"/><rect x="404" y="270" width="3" height="6" fill="#ff0000"/><rect x="402" y="276" width="8" height="1" fill="#ff0000"/><rect x="403" y="277" width="6" height="1" fill="#ff0000"/><rect x="404" y="278" width="4" height="1" fill="#ff0000"/><rect x="404" y="279" width="3" height="1" fill="#ff0000"/><rect x="405" y="280" width="1" height="1" fill="#ff0000"/><rect x="427" y="276" width="3" height="6" fill="#ff0000"/><rect x="425" y="282" width="8" height="1" fill="#ff0000"/><rect x="426" y="283" width="6" height="1" fill="#ff0000"/><rect x="427" y="284" width="4" height="1" fill="#ff0000"/><rect x="427" y="285" width="3" height="1" fill="#ff0000"/><rect x="428" y="286" width="1" height="1" fill="#ff0000"/><rect x="463" y="250" width="3" height="6" fill="#ff0000"/><rect x="461" y="256" width="8" height="1" fill="#ff0000"/><rect x="462" y="257" width="6" height="1" fill="#ff0000"/><rect x="463" y="258" width="4" height="1" fill="#ff0000"/><rect x="463" y="259" width="3" height="1" fill="#ff0000"/><rect x="464" y="260" width="1" height="1" fill="#ff0000"/><rect x="28" y="148" width="1" height="1" fill="#008000"/><rect x="27" y="149" width="3" height="1" fill="#008000"/><rect x="26" y="150" width="5" height="1" fill="#008000"/><rect x="25" y="151" width="8" height="1" fill="#008000"/><rect x="27" y="152" width="3" height="7" fill="#008000"/><rect x="50" y="141" width="1" height="1" fill="#008000"/><rect x="49" y="142" width="3" height="1" fill="#008000"/><rect x="48" y="143" width="5" height="1" fill="#008000"/><rect x="47" y="144" width="8" height="1" fill="#008000"/><rect x="49" y="145" width="3" height="7" fill="#008000"/><rect x="95" y="110" width="1" height="1" fill="#008000"/><rect x="94" y="111" width="3" height="1" fill="#008000"/><rect x="93" y="112" width="5" height="1" fill="#008000"/><rect x="92" y="113" width="8" height="1" fill="#008000"/><rect x="94" y="114" width="3" height="7" fill="#008000"/><rect x="122" y="127" width="1" height="1" fill="#008000"/><rect x="121" y="128" width="3" height="1" fill="#008000"/><rect x="120" y="129" width="5" height="1" fill="#008000"/><rect x="119" y="130" width="8" height="1" fill="#008000"/><rect x="121" y="131" width="3" height="7" fill="#008000"/><rect x="144" y="123" width="1" height="1" fill="#008000"/><rect x="143" y="124" width="3" height="1" fill="#008000"/><rect x="142" y="125" width="5" height="1" fill="#008000"/><rect x="141" y="126" width="8" height="1" fill="#008000"/><rect x="143" y="127" width="3" height="7" fill="#008000"/><rect x="216" y="322" width="1" height="1" fill="#008000"/><rect x="215" y="323" width="3" height="1" fill="#008000"/><rect x="214" y="324" width="5" height="1" fill="#008000"/><rect x="213" y="325" width="8" height="1" fill="#008000"/><rect x="215" y="326" width="3" height="7" fill="#008000"/><rect x="310" y="281" width="1" height="1" fill="#008000"/><rect x="309" y="282" width="3" height="1" fill="#008000"/><rect x="308" y="283" width="5" height="1" fill="#008000"/><rect x="307" y="284" width="8" height="1" fill="#008000"/><rect x="309" y="285" width="3" height="7" fill="#008000"/><rect x="401" y="306" width="1" height="1" fill="#008000"/><rect x="400" y="307" width="3" height="1" fill="#008000"/><rect x="399" y="308" width="5" height="1" fill="#008000"/><rect x="398" y="309" width="8" height="1" fill="#008000"/><rect x="400" y="310" width="3" height="7" fill="#008000"/><rect x="414" y="314" width="1" height="1" fill="#008000"/><rect x="413" y="315" width="3" height="1" fill="#008000"/><rect x="412" y="316" width="5" height="1" fill="#008000"/><rect x="411" y="317" width="8" height="1" fill="#008000"/><rect x="413" y="318" width="3" height="7" fill="#008000"/><rect x="527" y="347" width="1" height="1" fill="#008000"/><rect x="526" y="348" width="3" height="1" fill="#008000"/><rect x="525" y="349" width="5" height="1" fill="#008000"/><rect x="524" y="350" width="8" height="1" fill="#008000"/><rect x="526" y="351" width="3" height="7" fill="#008000"/></g>
<g shape-rendering="crispEdges"><rect x="2" y="430" width="1" height="9" fill="#000"/><rect x="7" y="433" width="1" height="6" fill="#000"/><rect x="12" y="428" width="1" height="11" fill="#000"/><rect x="15" y="434" width="1" height="5" fill="#000"/><rect x="20" y="433" width="1" height="6" fill="#000"/><rect x="24" y="434" width="1" height="5" fill="#000"/><rect x="29" y="435" width="1" height="4" fill="#000"/><rect x="34" y="438" width="1" height="1" fill="#000"/><rect x="43" y="434" width="1" height="5" fill="#000"/><rect x="47" y="435" width="1" height="4" fill="#000"/><rect x="51" y="432" width="1" height="7" fill="#000"/><rect x="56" y="432" width="1" height="7" fill="#000"/><rect x="60" y="432" width="1" height="7" fill="#000"/><rect x="65" y="430" width="1" height="9" fill="#000"/><rect x="70" y="429" width="1" height="10" fill="#000"/><rect x="74" y="434" width="1" height="5" fill="#000"/><rect x="79" y="430" width="1" height="9" fill="#000"/><rect x="83" y="434" width="1" height="5" fill="#000"/><rect x="87" y="436" width="1" height="3" fill="#000"/><rect x="92" y="435" width="1" height="4" fill="#000"/><rect x="96" y="438" width="1" height="1" fill="#000"/><rect x="101" y="436" width="1" height="3" fill="#000"/><rect x="106" y="436" width="1" height="3" fill="#000"/><rect x="110" y="436" width="1" height="3" fill="#000"/><rect x="114" y="428" width="1" height="11" fill="#000"/><rect x="119" y="436" width="1" height="3" fill="#000"/><rect x="123" y="437" width="1" height="2" fill="#000"/><rect x="128" y="438" width="1" height="1" fill="#000"/><rect x="132" y="436" width="1" height="3" fill="#000"/><rect x="137" y="436" width="1" height="3" fill="#000"/><rect x="142" y="437" width="1" height="2" fill="#000"/><rect x="145" y="438" width="1" height="1" fill="#000"/><rect x="150" y="435" width="1" height="4" fill="#000"/><rect x="155" y="430" width="1" height="9" fill="#000"/><rect x="159" y="431" width="1" height="8" fill="#000"/><rect x="164" y="435" width="1" height="4" fill="#000"/><rect x="168" y="432" width="1" height="7" fill="#000"/><rect x="173" y="434" width="1" height="5" fill="#000"/><rect x="177" y="389" width="1" height="50" fill="#000"/><rect x="181" y="419" width="1" height="20" fill="#000"/><rect x="186" y="429" width="1" height="10" fill="#000"/><rect x="191" y="433" width="1" height="6" fill="#000"/><rect x="195" y="430" width="1" height="9" fill="#000"/><rect x="200" y="431" width="1" height="8" fill="#000"/><rect x="204" y="431" width="1" height="8" fill="#000"/><rect x="208" y="433" width="1" height="6" fill="#000"/><rect x="213" y="433" width="1" height="6" fill="#000"/><rect x="217" y="434" width="1" height="5" fill="#000"/><rect x="222" y="435" width="1" height="4" fill="#000"/><rect x="227" y="436" width="1" height="3" fill="#000"/><rect x="231" y="434" width="1" height="5" fill="#000"/><rect x="236" y="436" width="1" height="3" fill="#000"/><rect x="240" y="432" width="1" height="7" fill="#000"/><rect x="244" y="435" width="1" height="4" fill="#000"/><rect x="249" y="436" width="1" height="3" fill="#000"/><rect x="253" y="434" width="1" height="5" fill="#000"/><rect x="258" y="436" width="1" height="3" fill="#000"/><rect x="263" y="436" width="1" height="3" fill="#000"/><rect x="267" y="432" width="1" height="7" fill="#000"/><rect x="272" y="434" width="1" height="5" fill="#000"/><rect x="275" y="435" width="1" height="4" fill="#000"/><rect x="280" y="437" width="1" height="2" fill="#000"/><rect x="285" y="435" width="1" height="4" fill="#000"/><rect x="289" y="436" width="1" height="3" fill="#000"/><rect x="294" y="435" width="1" height="4" fill="#000"/><rect x="299" y="435" width="1" height="4" fill="#000"/><rect x="303" y="434" width="1" height="5" fill="#000"/><rect x="307" y="432" width="1" height="7" fill="#000"/><rect x="311" y="430" width="1" height="9" fill="#000"/><rect x="316" y="433" width="1" height="6" fill="#000"/><rect x="321" y="438" width="1" height="1" fill="#000"/><rect x="325" y="437" width="1" height="2" fill="#000"/><rect x="330" y="435" width="1" height="4" fill="#000"/><rect x="335" y="434" width="1" height="5" fill="#000"/><rect x="338" y="436" width="1" height="3" fill="#000"/><rect x="343" y="436" width="1" height="3" fill="#000"/><rect x="348" y="436" width="1" height="3" fill="#000"/><rect x="352" y="438" width="1" height="1" fill="#000"/><rect x="357" y="438" width="1" height="1" fill="#000"/><rect x="361" y="435" width="1" height="4" fill="#000"/><rect x="366" y="436" width="1" height="3" fill="#000"/><rect x="370" y="436" width="1" height="3" fill="#000"/><rect x="374" y="434" width="1" height="5" fill="#000"/><rect x="379" y="437" width="1" height="2" fill="#000"/><rect x="384" y="438" width="1" height="1" fill="#000"/><rect x="388" y="437" width="1" height="2" fill="#000"/><rect x="393" y="436" width="1" height="3" fill="#000"/><rect x="397" y="435" width="1" height="4" fill="#000"/><rect x="402" y="435" width="1" height="4" fill="#000"/><rect x="406" y="435" width="1" height="4" fill="#000"/><rect x="410" y="436" width="1" height="3" fill="#000"/><rect x="415" y="435" width="1" height="4" fill="#000"/><rect x="420" y="436" width="1" height="3" fill="#000"/><rect x="424" y="435" width="1" height="4" fill="#000"/><rect x="429" y="436" width="1" height="3" fill="#000"/><rect x="433" y="436" width="1" height="3" fill="#000"/><rect x="437" y="437" width="1" height="2" fill="#000"/><rect x="442" y="436" width="1" height="3" fill="#000"/><rect x="446" y="428" width="1" height="11" fill="#000"/><rect x="451" y="436" width="1" height="3" fill="#000"/><rect x="456" y="435" width="1" height="4" fill="#000"/><rect x="460" y="432" width="1" height="7" fill="#000"/><rect x="465" y="427" width="1" height="12" fill="#000"/><rect x="468" y="433" width="1" height="6" fill="#000"/><rect x="473" y="435" width="1" height="4" fill="#000"/><rect x="478" y="436" width="1" height="3" fill="#000"/><rect x="482" y="432" width="1" height="7" fill="#000"/><rect x="487" y="435" width="1" height="4" fill="#000"/><rect x="492" y="436" width="1" height="3" fill="#000"/><rect x="496" y="436" width="1" height="3" fill="#000"/><rect x="500" y="436" width="1" height="3" fill="#000"/><rect x="504" y="437" width="1" height="2" fill="#000"/><rect x="509" y="436" width="1" height="3" fill="#000"/><rect x="514" y="437" width="1" height="2" fill="#000"/><rect x="518" y="438" width="1" height="1" fill="#000"/><rect x="523" y="438" width="1" height="1" fill="#000"/><rect x="528" y="437" width="1" height="2" fill="#000"/><rect x="531" y="436" width="1" height="3" fill="#000"/><rect x="536" y="437" width="1" height="2" fill="#000"/><rect x="540" y="437" width="1" height="2" fill="#000"/><rect x="545" y="437" width="1" height="2" fill="#000"/><rect x="550" y="438" width="1" height="1" fill="#000"/><rect x="554" y="435" width="1" height="4" fill="#000"/><rect x="559" y="435" width="1" height="4" fill="#000"/><rect x="563" y="437" width="1" height="2" fill="#000"/><rect x="567" y="436" width="1" height="3" fill="#000"/><rect x="572" y="437" width="1" height="2" fill="#000"/><rect x="576" y="437" width="1" height="2" fill="#000"/><rect x="581" y="438" width="1" height="1" fill="#000"/><rect x="586" y="437" width="1" height="2" fill="#000"/><rect x="590" y="438" width="1" height="1" fill="#000"/><rect x="595" y="437" width="1" height="2" fill="#000"/><rect x="599" y="434" width="1" height="5" fill="#000"/><rect x="603" y="438" width="1" height="1" fill="#000"/><rect x="608" y="437" width="1" height="2" fill="#000"/></g>
<g shape-rendering="crispEdges"><rect x="0" y="384" width="709" height="1" fill="#000"/><rect x="0" y="439" width="660" height="1" fill="#000"/><rect x="2" y="440" width="1" height="4" fill="#000"/><rect x="24" y="440" width="1" height="4" fill="#000"/><rect x="43" y="440" width="1" height="4" fill="#000"/><rect x="65" y="440" width="1" height="4" fill="#000"/><rect x="87" y="440" width="1" height="4" fill="#000"/><rect x="110" y="440" width="1" height="4" fill="#000"/><rect x="128" y="440" width="1" height="4" fill="#000"/><rect x="150" y="440" width="1" height="4" fill="#000"/><rect x="173" y="440" width="1" height="4" fill="#000"/><rect x="195" y="440" width="1" height="4" fill="#000"/><rect x="213" y="440" width="1" height="4" fill="#000"/><rect x="236" y="440" width="1" height="4" fill="#000"/><rect x="258" y="440" width="1" height="4" fill="#000"/><rect x="280" y="440" width="1" height="4" fill="#000"/><rect x="303" y="440" width="1" height="4" fill="#000"/><rect x="321" y="440" width="1" height="4" fill="#000"/><rect x="343" y="440" width="1" height="4" fill="#000"/><rect x="366" y="440" width="1" height="4" fill="#000"/><rect x="388" y="440" width="1" height="4" fill="#000"/><rect x="406" y="440" width="1" height="4" fill="#000"/><rect x="429" y="440" width="1" height="4" fill="#000"/><rect x="451" y="440" width="1" height="4" fill="#000"/><rect x="473" y="440" width="1" height="4" fill="#000"/><rect x="496" y="440" width="1" height="4" fill="#000"/><rect x="518" y="440" width="1" height="4" fill="#000"/><rect x="540" y="440" width="1" height="4" fill="#000"/><rect x="563" y="440" width="1" height="4" fill="#000"/><rect x="586" y="440" width="1" height="4" fill="#000"/><rect x="608" y="440" width="1" height="4" fill="#000"/><rect x="625" y="440" width="1" height="4" fill="#000"/><rect x="648" y="440" width="1" height="4" fill="#000"/><rect x="51" y="440" width="1" height="17" fill="#000"/><rect x="150" y="440" width="1" height="17" fill="#000"/><rect x="240" y="440" width="1" height="17" fill="#000"/><rect x="325" y="440" width="1" height="17" fill="#000"/><rect x="424" y="440" width="1" height="17" fill="#000"/><rect x="518" y="440" width="1" height="17" fill="#000"/><rect x="612" y="440" width="1" height="17" fill="#000"/><rect x="660" y="0" width="8" height="1" fill="#000"/><rect x="660" y="3" width="4" height="1" fill="#000"/><rect x="660" y="6" width="4" height="1" fill="#000"/><rect x="660" y="9" width="4" height="1" fill="#000"/><rect x="660" y="12" width="4" height="1" fill="#000"/><rect x="660" y="15" width="8" height="1" fill="#000"/><rect x="660" y="18" width="4" height="1" fill="#000"/><rect x="660" y="20" width="4" height="1" fill="#000"/><rect x="660" y="23" width="4" height="1" fill="#000"/><rect x="660" y="26" width="4" height="1" fill="#000"/><rect x="660" y="29" width="8" height="1" fill="#000"/><rect x="660" y="32" width="4" height="1" fill="#000"/><rect x="660" y="35" width="4" height="1" fill="#000"/><rect x="660" y="38" width="4" height="1" fill="#000"/><rect x="660" y="41" width="4" height="1" fill="#000"/><rect x="660" y="44" width="8" height="1" fill="#000"/><rect x="660" y="47" width="4" height="1" fill="#000"/><rect x="660" y="50" width="4" height="1" fill="#000"/><rect x="660" y="53" width="4" height="1" fill="#000"/><rect x="660" y="56" width="4" height="1" fill="#000"/><rect x="660" y="59" width="8" height="1" fill="#000"/><rect x="660" y="62" width="4" height="1" fill="#000"/><rect x="660" y="65" width="4" height="1" fill="#000"/><rect x="660" y="68" width="4" height="1" fill="#000"/><rect x="660" y="71" width="4" height="1" fill="#000"/><rect x="660" y="74" width="8" height="1" fill="#000"/><rect x="660" y="77" width="4" height="1" fill="#000"/><rect x="660" y="80" width="4" height="1" fill="#000"/><rect x="660" y="83" width="4" height="1" fill="#000"/><rect x="660" y="86" width="4" height="1" fill="#000"/><rect x="660" y="88" width="8" height="1" fill="#000"/><rect x="660" y="91" width="4" height="1" fill="#000"/><rect x="660" y="94" width="4" height="1" fill="#000"/><rect x="660" y="97" width="4" height="1" fill="#000"/><rect x="660" y="100" width="4" height="1" fill="#000"/><rect x="660" y="103" width="8" height="1" fill="#000"/><rect x="660" y="106" width="4" height="1" fill="#000"/><rect x="660" y="109" width="4" height="1" fill="#000"/><rect x="660" y="112" width="4" height="1" fill="#000"/><rect x="660" y="115" width="4" height="1" fill="#000"/><rect x="660" y="118" width="8" height="1" fill="#000"/><rect x="660" y="121" width="4" height="1" fill="#000"/><rect x="660" y="124" width="4" height="1" fill="#000"/><rect x="660" y="127" width="4" height="1" fill="#000"/><rect x="660" y="130" width="4" height="1" fill="#000"/><rect x="660" y="133" width="8" height="1" fill="#000"/><rect x="660" y="136" width="4" height="1" fill="#000"/><rect x="660" y="139" width="4" height="1" fill="#000"/><rect x="660" y="142" width="4" height="1" fill="#000"/><rect x="660" y="145" width="4" height="1" fill="#000"/><rect x="660" y="148" width="8" height="1" fill="#000"/><rect x="660" y="151" width="4" height="1" fill="#000"/><rect x="660" y="154" width="4" height="1" fill="#000"/><rect x="660" y="157" width="4" height="1" fill="#000"/><rect x="660" y="159" width="4" height="1" fill="#000"/><rect x="660" y="162" width="8" height="1" fill="#000"/><rect x="660" y="165" width="4" height="1" fill="#000"/><rect x="660" y="168" width="4" height="1" fill="#000"/><rect x="660" y="171" width="4" height="1" fill="#000"/><rect x="660" y="174" width="4" height="1" fill="#000"/><rect x="660" y="177" width="8" height="1" fill="#000"/><rect x="660" y="180" width="4" height="1" fill="#000"/><rect x="660" y="183" width="4" height="1" fill="#000"/><rect x="660" y="186" width="4" height="1" fill="#000"/><rect x="660" y="189" width="4" height="1" fill="#000"/><rect x="660" y="192" width="8" height="1" fill="#000"/><rect x="660" y="195" width="4" height="1" fill="#000"/><rect x="660" y="198" width="4" height="1" fill="#000"/><rect x="660" y="201" width="4" height="1" fill="#000"/><rect x="660" y="204" width="4" height="1" fill="#000"/><rect x="660" y="207" width="8" height="1" fill="#000"/><rect x="660" y="210" width="4" height="1" fill="#000"/><rect x="660" y="213" width="4" height="1" fill="#000"/><rect x="660" y="216" width="4" height="1" fill="#000"/><rect x="660" y="219" width="4" height="1" fill="#000"/><rect x="660" y="222" width="8" height="1" fill="#000"/><rect x="660" y="225" width="4" height="1" fill="#000"/><rect x="660" y="228" width="4" height="1" fill="#000"/><rect x="660" y="230" width="4" height="1" fill="#000"/><rect x="660" y="233" width="4" height="1" fill="#000"/><rect x="660" y="236" width="8" height="1" fill="#000"/><rect x="660" y="239" width="4" height="1" fill="#000"/><rect x="660" y="242" width="4" height="1" fill="#000"/><rect x="660" y="245" width="4" height="1" fill="#000"/><rect x="660" y="248" width="4" height="1" fill="#000"/><rect x="660" y="251" width="8" height="1" fill="#000"/><rect x="660" y="254" width="4" height="1" fill="#000"/><rect x="660" y="257" width="4" height="1" fill="#000"/><rect x="660" y="260" width="4" height="1" fill="#000"/><rect x="660" y="263" width="4" height="1" fill="#000"/><rect x="660" y="266" width="8" height="1" fill="#000"/><rect x="660" y="269" width="4" height="1" fill="#000"/><rect x="660" y="272" width="4" height="1" fill="#000"/><rect x="660" y="275" width="4" height="1" fill="#000"/><rect x="660" y="278" width="4" height="1" fill="#000"/><rect x="660" y="281" width="8" height="1" fill="#000"/><rect x="660" y="284" width="4" height="1" fill="#000"/><rect x="660" y="287" width="4" height="1" fill="#000"/><rect x="660" y="290" width="4" height="1" fill="#000"/><rect x="660" y="293" width="4" height="1" fill="#000"/><rect x="660" y="296" width="8" height="1" fill="#000"/><rect x="660" y="298" width="4" height="1" fill="#000"/><rect x="660" y="301" width="4" height="1" fill="#000"/><rect x="660" y="304" width="4" height="1" fill="#000"/><rect x="660" y="307" width="4" height="1" fill="#000"/><rect x="660" y="310" width="8" height="1" fill="#000"/><rect x="660" y="313" width="4" height="1" fill="#000"/><rect x="660" y="316" width="4" height="1" fill="#000"/><rect x="660" y="319" width="4" height="1" fill="#000"/><rect x="660" y="322" width="4" height="1" fill="#000"/><rect x="660" y="325" width="8" height="1" fill="#000"/><rect x="660" y="328" width="4" height="1" fill="#000"/><rect x="660" y="331" width="4" height="1" fill="#000"/><rect x="660" y="334" width="4" height="1" fill="#000"/><rect x="660" y="337" width="4" height="1" fill="#000"/><rect x="660" y="340" width="8" height="1" fill="#000"/><rect x="660" y="343" width="4" height="1" fill="#000"/><rect x="660" y="346" width="4" height="1" fill="#000"/><rect x="660" y="349" width="4" height="1" fill="#000"/><rect x="660" y="352" width="4" height="1" fill="#000"/><rect x="660" y="355" width="8" height="1" fill="#000"/><rect x="660" y="358" width="4" height="1" fill="#000"/><rect x="660" y="361" width="4" height="1" fill="#000"/><rect x="660" y="364" width="4" height="1" fill="#000"/><rect x="660" y="367" width="4" height="1" fill="#000"/><rect x="660" y="369" width="8" height="1" fill="#000"/><rect x="660" y="372" width="4" height="1" fill="#000"/><rect x="660" y="375" width="4" height="1" fill="#000"/><rect x="660" y="378" width="4" height="1" fill="#000"/><rect x="660" y="381" width="4" height="1" fill="#000"/><rect x="660" y="388" width="8" height="1" fill="#000"/><rect x="660" y="394" width="4" height="1" fill="#000"/><rect x="660" y="399" width="4" height="1" fill="#000"/><rect x="660" y="403" width="4" height="1" fill="#000"/><rect x="660" y="408" width="4" height="1" fill="#000"/><rect x="660" y="414" width="8" height="1" fill="#000"/><rect x="660" y="419" width="4" height="1" fill="#000"/><rect x="660" y="424" width="4" height="1" fill="#000"/><rect x="660" y="429" width="4" height="1" fill="#000"/><rect x="660" y="434" width="4" height="1" fill="#000"/><rect x="662" y="426" width="1" height="13" fill="#000"/><rect x="662" y="426" width="28" height="1" fill="#000"/><rect x="689" y="426" width="1" height="13" fill="#000"/></g>
<text x="682.5" y="21" class="t">25.5</text><text x="682.5" y="35" class="t">25.0</text><text x="682.5" y="50" class="t">24.5</text><text x="682.5" y="65" class="t">24.0</text><text x="682.5" y="80" class="t">23.5</text><text x="682.5" y="94" class="t">23.0</text><text x="682.5" y="109" class="t">22.5</text><text x="682.5" y="124" class="t">22.0</text><text x="682.5" y="139" class="t">21.5</text><text x="682.5" y="154" class="t">21.0</text><text x="682.5" y="168" class="t">20.5</text><text x="682.5" y="183" class="t">20.0</text><text x="682.5" y="198" class="t">19.5</text><text x="682.5" y="213" class="t">19.0</text><text x="682.5" y="228" class="t">18.5</text><text x="682.5" y="242" class="t">18.0</text><text x="682.5" y="257" class="t">17.5</text><text x="682.5" y="272" class="t">17.0</text><text x="682.5" y="287" class="t">16.5</text><text x="682.5" y="302" class="t">16.0</text><text x="682.5" y="316" class="t">15.5</text><text x="682.5" y="331" class="t">15.0</text><text x="682.5" y="346" class="t">14.5</text><text x="682.5" y="361" class="t">14.0</text><text x="682.5" y="375" class="t">13.5</text><text x="671.5" y="420" class="t">50000</text><text x="663.5" y="436" class="s" textLength="24.5" lengthAdjust="spacingAndGlyphs">x1000</text><text x="278.5" y="399" class="t">Volume (5,256,200)</text><text x="53.5" y="455" class="t" textLength="56.5" lengthAdjust="spacingAndGlyphs">December</text><text x="152.5" y="455" class="t">2005</text><text x="242.5" y="455" class="t" textLength="46.5" lengthAdjust="spacingAndGlyphs">February</text><text x="327.5" y="455" class="t">March</text><text x="426.5" y="455" class="t">April</text><text x="520.5" y="455" class="t" textLength="20.5" lengthAdjust="spacingAndGlyphs">May</text><text x="613.5" y="455" class="t">June</text>
</svg>
</body></html>
